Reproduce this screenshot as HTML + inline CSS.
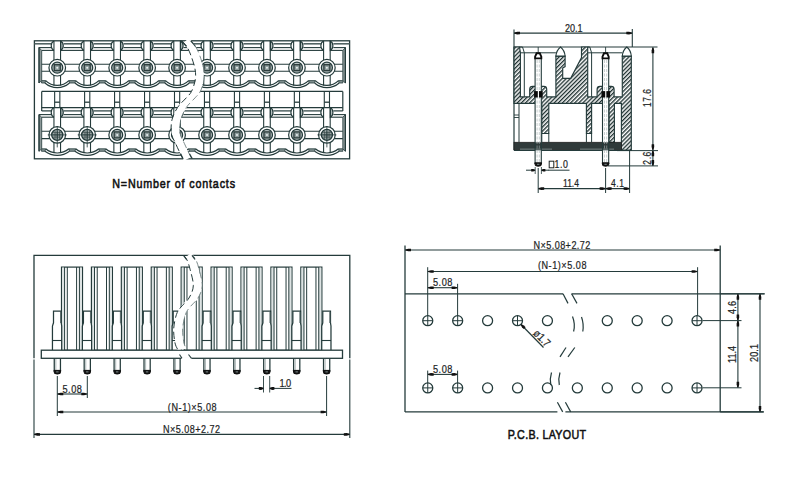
<!DOCTYPE html>
<html><head><meta charset="utf-8"><style>
html,body{margin:0;padding:0;background:#fff;}
svg{display:block;font-family:"Liberation Sans",sans-serif;}
</style></head><body>
<svg width="800" height="486" viewBox="0 0 800 486">
<rect width="800" height="486" fill="#fff"/>
<g>
<rect x="34.40" y="40.80" width="315.20" height="118.00" stroke="#243b3b" stroke-width="1.3" fill="none" />
<line x1="34.40" y1="43.80" x2="51.25" y2="43.80" stroke="#526464" stroke-width="1.6" />
<line x1="63.75" y1="43.80" x2="81.21" y2="43.80" stroke="#526464" stroke-width="1.6" />
<line x1="93.71" y1="43.80" x2="111.17" y2="43.80" stroke="#526464" stroke-width="1.6" />
<line x1="123.67" y1="43.80" x2="141.13" y2="43.80" stroke="#526464" stroke-width="1.6" />
<line x1="153.63" y1="43.80" x2="171.09" y2="43.80" stroke="#526464" stroke-width="1.6" />
<line x1="183.59" y1="43.80" x2="201.05" y2="43.80" stroke="#526464" stroke-width="1.6" />
<line x1="213.55" y1="43.80" x2="231.01" y2="43.80" stroke="#526464" stroke-width="1.6" />
<line x1="243.51" y1="43.80" x2="260.97" y2="43.80" stroke="#526464" stroke-width="1.6" />
<line x1="273.47" y1="43.80" x2="290.93" y2="43.80" stroke="#526464" stroke-width="1.6" />
<line x1="303.43" y1="43.80" x2="320.89" y2="43.80" stroke="#526464" stroke-width="1.6" />
<line x1="333.39" y1="43.80" x2="349.60" y2="43.80" stroke="#526464" stroke-width="1.6" />
<line x1="39.00" y1="47.60" x2="51.25" y2="47.60" stroke="#243b3b" stroke-width="1.1" />
<line x1="63.75" y1="47.60" x2="81.21" y2="47.60" stroke="#243b3b" stroke-width="1.1" />
<line x1="93.71" y1="47.60" x2="111.17" y2="47.60" stroke="#243b3b" stroke-width="1.1" />
<line x1="123.67" y1="47.60" x2="141.13" y2="47.60" stroke="#243b3b" stroke-width="1.1" />
<line x1="153.63" y1="47.60" x2="171.09" y2="47.60" stroke="#243b3b" stroke-width="1.1" />
<line x1="183.59" y1="47.60" x2="201.05" y2="47.60" stroke="#243b3b" stroke-width="1.1" />
<line x1="213.55" y1="47.60" x2="231.01" y2="47.60" stroke="#243b3b" stroke-width="1.1" />
<line x1="243.51" y1="47.60" x2="260.97" y2="47.60" stroke="#243b3b" stroke-width="1.1" />
<line x1="273.47" y1="47.60" x2="290.93" y2="47.60" stroke="#243b3b" stroke-width="1.1" />
<line x1="303.43" y1="47.60" x2="320.89" y2="47.60" stroke="#243b3b" stroke-width="1.1" />
<line x1="333.39" y1="47.60" x2="345.40" y2="47.60" stroke="#243b3b" stroke-width="1.1" />
<line x1="41.70" y1="50.40" x2="53.95" y2="50.40" stroke="#243b3b" stroke-width="1.1" />
<line x1="60.55" y1="50.40" x2="83.91" y2="50.40" stroke="#243b3b" stroke-width="1.1" />
<line x1="90.51" y1="50.40" x2="113.87" y2="50.40" stroke="#243b3b" stroke-width="1.1" />
<line x1="120.47" y1="50.40" x2="143.83" y2="50.40" stroke="#243b3b" stroke-width="1.1" />
<line x1="150.43" y1="50.40" x2="173.79" y2="50.40" stroke="#243b3b" stroke-width="1.1" />
<line x1="180.39" y1="50.40" x2="203.75" y2="50.40" stroke="#243b3b" stroke-width="1.1" />
<line x1="210.35" y1="50.40" x2="233.71" y2="50.40" stroke="#243b3b" stroke-width="1.1" />
<line x1="240.31" y1="50.40" x2="263.67" y2="50.40" stroke="#243b3b" stroke-width="1.1" />
<line x1="270.27" y1="50.40" x2="293.63" y2="50.40" stroke="#243b3b" stroke-width="1.1" />
<line x1="300.23" y1="50.40" x2="323.59" y2="50.40" stroke="#243b3b" stroke-width="1.1" />
<line x1="330.19" y1="50.40" x2="342.80" y2="50.40" stroke="#243b3b" stroke-width="1.1" />
<path d="M53.85,41 C50.35,42.88 50.35,48.519999999999996 53.85,50.4" stroke="#243b3b" stroke-width="1.15" fill="none" />
<path d="M60.65,41 C64.15,42.88 64.15,48.519999999999996 60.65,50.4 Z" stroke="#243b3b" stroke-width="1.15" fill="#b4bebe" />
<path d="M83.81,41 C80.31,42.88 80.31,48.519999999999996 83.81,50.4" stroke="#243b3b" stroke-width="1.15" fill="none" />
<path d="M90.61000000000001,41 C94.11000000000001,42.88 94.11000000000001,48.519999999999996 90.61000000000001,50.4 Z" stroke="#243b3b" stroke-width="1.15" fill="#b4bebe" />
<path d="M113.77,41 C110.27,42.88 110.27,48.519999999999996 113.77,50.4" stroke="#243b3b" stroke-width="1.15" fill="none" />
<path d="M120.57000000000001,41 C124.07000000000001,42.88 124.07000000000001,48.519999999999996 120.57000000000001,50.4 Z" stroke="#243b3b" stroke-width="1.15" fill="#b4bebe" />
<path d="M143.73,41 C140.23,42.88 140.23,48.519999999999996 143.73,50.4" stroke="#243b3b" stroke-width="1.15" fill="none" />
<path d="M150.53,41 C154.03,42.88 154.03,48.519999999999996 150.53,50.4 Z" stroke="#243b3b" stroke-width="1.15" fill="#b4bebe" />
<path d="M173.69,41 C170.19,42.88 170.19,48.519999999999996 173.69,50.4" stroke="#243b3b" stroke-width="1.15" fill="none" />
<path d="M180.49,41 C183.99,42.88 183.99,48.519999999999996 180.49,50.4 Z" stroke="#243b3b" stroke-width="1.15" fill="#b4bebe" />
<path d="M203.65,41 C200.15,42.88 200.15,48.519999999999996 203.65,50.4" stroke="#243b3b" stroke-width="1.15" fill="none" />
<path d="M210.45000000000002,41 C213.95000000000002,42.88 213.95000000000002,48.519999999999996 210.45000000000002,50.4 Z" stroke="#243b3b" stroke-width="1.15" fill="#b4bebe" />
<path d="M233.60999999999999,41 C230.10999999999999,42.88 230.10999999999999,48.519999999999996 233.60999999999999,50.4" stroke="#243b3b" stroke-width="1.15" fill="none" />
<path d="M240.41,41 C243.91,42.88 243.91,48.519999999999996 240.41,50.4 Z" stroke="#243b3b" stroke-width="1.15" fill="#b4bebe" />
<path d="M263.57000000000005,41 C260.07000000000005,42.88 260.07000000000005,48.519999999999996 263.57000000000005,50.4" stroke="#243b3b" stroke-width="1.15" fill="none" />
<path d="M270.37,41 C273.87,42.88 273.87,48.519999999999996 270.37,50.4 Z" stroke="#243b3b" stroke-width="1.15" fill="#b4bebe" />
<path d="M293.53000000000003,41 C290.03000000000003,42.88 290.03000000000003,48.519999999999996 293.53000000000003,50.4" stroke="#243b3b" stroke-width="1.15" fill="none" />
<path d="M300.33,41 C303.83,42.88 303.83,48.519999999999996 300.33,50.4 Z" stroke="#243b3b" stroke-width="1.15" fill="#b4bebe" />
<path d="M323.49,41 C319.99,42.88 319.99,48.519999999999996 323.49,50.4" stroke="#243b3b" stroke-width="1.15" fill="none" />
<path d="M330.28999999999996,41 C333.78999999999996,42.88 333.78999999999996,48.519999999999996 330.28999999999996,50.4 Z" stroke="#243b3b" stroke-width="1.15" fill="#b4bebe" />
<path d="M39,47.6 L41.7,50.4 L41.7,80.6 L39,83.0 Z" stroke="#243b3b" stroke-width="0.8" fill="#8d9999" />
<path d="M345.4,47.6 L342.8,50.4 L342.8,80.6 L345.4,83.0 Z" stroke="#243b3b" stroke-width="0.8" fill="#8d9999" />
<line x1="39.00" y1="47.60" x2="39.00" y2="83.00" stroke="#243b3b" stroke-width="1.2" />
<line x1="345.40" y1="47.60" x2="345.40" y2="83.00" stroke="#243b3b" stroke-width="1.2" />
<line x1="41.70" y1="64.30" x2="342.80" y2="64.30" stroke="#243b3b" stroke-width="1.1" />
<line x1="41.70" y1="71.30" x2="342.80" y2="71.30" stroke="#243b3b" stroke-width="1.1" />
<line x1="53.95" y1="41.00" x2="53.95" y2="85.40" stroke="#243b3b" stroke-width="1.1" />
<line x1="60.55" y1="41.00" x2="60.55" y2="85.40" stroke="#243b3b" stroke-width="1.1" />
<line x1="83.91" y1="41.00" x2="83.91" y2="85.40" stroke="#243b3b" stroke-width="1.1" />
<line x1="90.51" y1="41.00" x2="90.51" y2="85.40" stroke="#243b3b" stroke-width="1.1" />
<line x1="113.87" y1="41.00" x2="113.87" y2="85.40" stroke="#243b3b" stroke-width="1.1" />
<line x1="120.47" y1="41.00" x2="120.47" y2="85.40" stroke="#243b3b" stroke-width="1.1" />
<line x1="143.83" y1="41.00" x2="143.83" y2="85.40" stroke="#243b3b" stroke-width="1.1" />
<line x1="150.43" y1="41.00" x2="150.43" y2="85.40" stroke="#243b3b" stroke-width="1.1" />
<line x1="173.79" y1="41.00" x2="173.79" y2="85.40" stroke="#243b3b" stroke-width="1.1" />
<line x1="180.39" y1="41.00" x2="180.39" y2="85.40" stroke="#243b3b" stroke-width="1.1" />
<line x1="203.75" y1="41.00" x2="203.75" y2="85.40" stroke="#243b3b" stroke-width="1.1" />
<line x1="210.35" y1="41.00" x2="210.35" y2="85.40" stroke="#243b3b" stroke-width="1.1" />
<line x1="233.71" y1="41.00" x2="233.71" y2="85.40" stroke="#243b3b" stroke-width="1.1" />
<line x1="240.31" y1="41.00" x2="240.31" y2="85.40" stroke="#243b3b" stroke-width="1.1" />
<line x1="263.67" y1="41.00" x2="263.67" y2="85.40" stroke="#243b3b" stroke-width="1.1" />
<line x1="270.27" y1="41.00" x2="270.27" y2="85.40" stroke="#243b3b" stroke-width="1.1" />
<line x1="293.63" y1="41.00" x2="293.63" y2="85.40" stroke="#243b3b" stroke-width="1.1" />
<line x1="300.23" y1="41.00" x2="300.23" y2="85.40" stroke="#243b3b" stroke-width="1.1" />
<line x1="323.59" y1="41.00" x2="323.59" y2="85.40" stroke="#243b3b" stroke-width="1.1" />
<line x1="330.19" y1="41.00" x2="330.19" y2="85.40" stroke="#243b3b" stroke-width="1.1" />
<path d="M41.5,83.0 L41.7,80.6 L45.65,80.6 L44.949999999999996,83.0 Z" stroke="#243b3b" stroke-width="0.8" fill="#849292" />
<path d="M69.55,83.0 L68.85,80.6 L75.61000000000001,80.6 L74.91000000000001,83.0 Z" stroke="#243b3b" stroke-width="0.8" fill="#849292" />
<path d="M99.51,83.0 L98.81,80.6 L105.57000000000001,80.6 L104.87,83.0 Z" stroke="#243b3b" stroke-width="0.8" fill="#849292" />
<path d="M129.47,83.0 L128.77,80.6 L135.53,80.6 L134.83,83.0 Z" stroke="#243b3b" stroke-width="0.8" fill="#849292" />
<path d="M159.42999999999998,83.0 L158.73,80.6 L165.49,80.6 L164.79000000000002,83.0 Z" stroke="#243b3b" stroke-width="0.8" fill="#849292" />
<path d="M189.39,83.0 L188.69,80.6 L195.45000000000002,80.6 L194.75000000000003,83.0 Z" stroke="#243b3b" stroke-width="0.8" fill="#849292" />
<path d="M219.35,83.0 L218.65,80.6 L225.41,80.6 L224.71,83.0 Z" stroke="#243b3b" stroke-width="0.8" fill="#849292" />
<path d="M249.30999999999997,83.0 L248.60999999999999,80.6 L255.37000000000003,80.6 L254.67000000000004,83.0 Z" stroke="#243b3b" stroke-width="0.8" fill="#849292" />
<path d="M279.27000000000004,83.0 L278.57000000000005,80.6 L285.33,80.6 L284.63,83.0 Z" stroke="#243b3b" stroke-width="0.8" fill="#849292" />
<path d="M309.23,83.0 L308.53000000000003,80.6 L315.28999999999996,80.6 L314.59,83.0 Z" stroke="#243b3b" stroke-width="0.8" fill="#849292" />
<path d="M339.19,83.0 L338.49,80.6 L342.8,80.6 L342.9,83.0 Z" stroke="#243b3b" stroke-width="0.8" fill="#849292" />
<path d="M45.65,80.6 A16.42,16.42 0 0 0 68.85,80.6" stroke="#243b3b" stroke-width="1.2" fill="none" />
<path d="M44.95,83.0 A18.74,18.74 0 0 0 69.55,83.0" stroke="#243b3b" stroke-width="1.2" fill="none" />
<path d="M75.61000000000001,80.6 A16.42,16.42 0 0 0 98.81,80.6" stroke="#243b3b" stroke-width="1.2" fill="none" />
<path d="M74.91000000000001,83.0 A18.74,18.74 0 0 0 99.51,83.0" stroke="#243b3b" stroke-width="1.2" fill="none" />
<path d="M105.57000000000001,80.6 A16.42,16.42 0 0 0 128.77,80.6" stroke="#243b3b" stroke-width="1.2" fill="none" />
<path d="M104.87,83.0 A18.74,18.74 0 0 0 129.47,83.0" stroke="#243b3b" stroke-width="1.2" fill="none" />
<path d="M135.53,80.6 A16.42,16.42 0 0 0 158.73,80.6" stroke="#243b3b" stroke-width="1.2" fill="none" />
<path d="M134.82999999999998,83.0 A18.74,18.74 0 0 0 159.43,83.0" stroke="#243b3b" stroke-width="1.2" fill="none" />
<path d="M165.49,80.6 A16.42,16.42 0 0 0 188.69,80.6" stroke="#243b3b" stroke-width="1.2" fill="none" />
<path d="M164.79,83.0 A18.74,18.74 0 0 0 189.39000000000001,83.0" stroke="#243b3b" stroke-width="1.2" fill="none" />
<path d="M195.45000000000002,80.6 A16.42,16.42 0 0 0 218.65,80.6" stroke="#243b3b" stroke-width="1.2" fill="none" />
<path d="M194.75,83.0 A18.74,18.74 0 0 0 219.35000000000002,83.0" stroke="#243b3b" stroke-width="1.2" fill="none" />
<path d="M225.41,80.6 A16.42,16.42 0 0 0 248.60999999999999,80.6" stroke="#243b3b" stroke-width="1.2" fill="none" />
<path d="M224.70999999999998,83.0 A18.74,18.74 0 0 0 249.31,83.0" stroke="#243b3b" stroke-width="1.2" fill="none" />
<path d="M255.37000000000003,80.6 A16.42,16.42 0 0 0 278.57000000000005,80.6" stroke="#243b3b" stroke-width="1.2" fill="none" />
<path d="M254.67000000000002,83.0 A18.74,18.74 0 0 0 279.27000000000004,83.0" stroke="#243b3b" stroke-width="1.2" fill="none" />
<path d="M285.33,80.6 A16.42,16.42 0 0 0 308.53000000000003,80.6" stroke="#243b3b" stroke-width="1.2" fill="none" />
<path d="M284.63,83.0 A18.74,18.74 0 0 0 309.23,83.0" stroke="#243b3b" stroke-width="1.2" fill="none" />
<path d="M315.28999999999996,80.6 A16.42,16.42 0 0 0 338.49,80.6" stroke="#243b3b" stroke-width="1.2" fill="none" />
<path d="M314.59,83.0 A18.74,18.74 0 0 0 339.19,83.0" stroke="#243b3b" stroke-width="1.2" fill="none" />
<circle cx="57.25" cy="67.70" r="8.30" stroke="#243b3b" stroke-width="1.2" fill="#fff" />
<circle cx="57.25" cy="67.70" r="5.50" stroke="#243b3b" stroke-width="1.3" fill="#b9c3c3" />
<rect x="54.25" y="64.70" width="6.00" height="6.00" stroke="#2a3a3a" stroke-width="1.3" fill="#8d9b9b" />
<circle cx="57.25" cy="67.70" r="1.00" stroke="#243b3b" stroke-width="0" fill="#e8eeee" />
<circle cx="87.21" cy="67.70" r="8.30" stroke="#243b3b" stroke-width="1.2" fill="#fff" />
<circle cx="87.21" cy="67.70" r="5.50" stroke="#243b3b" stroke-width="1.3" fill="#b9c3c3" />
<rect x="84.21" y="64.70" width="6.00" height="6.00" stroke="#2a3a3a" stroke-width="1.3" fill="#8d9b9b" />
<circle cx="87.21" cy="67.70" r="1.00" stroke="#243b3b" stroke-width="0" fill="#e8eeee" />
<circle cx="117.17" cy="67.70" r="8.30" stroke="#243b3b" stroke-width="1.2" fill="#fff" />
<circle cx="117.17" cy="67.70" r="5.50" stroke="#243b3b" stroke-width="1.3" fill="#b9c3c3" />
<rect x="114.17" y="64.70" width="6.00" height="6.00" stroke="#2a3a3a" stroke-width="1.3" fill="#8d9b9b" />
<circle cx="117.17" cy="67.70" r="1.00" stroke="#243b3b" stroke-width="0" fill="#e8eeee" />
<circle cx="147.13" cy="67.70" r="8.30" stroke="#243b3b" stroke-width="1.2" fill="#fff" />
<circle cx="147.13" cy="67.70" r="5.50" stroke="#243b3b" stroke-width="1.3" fill="#b9c3c3" />
<rect x="144.13" y="64.70" width="6.00" height="6.00" stroke="#2a3a3a" stroke-width="1.3" fill="#8d9b9b" />
<circle cx="147.13" cy="67.70" r="1.00" stroke="#243b3b" stroke-width="0" fill="#e8eeee" />
<circle cx="177.09" cy="67.70" r="8.30" stroke="#243b3b" stroke-width="1.2" fill="#fff" />
<circle cx="177.09" cy="67.70" r="5.50" stroke="#243b3b" stroke-width="1.3" fill="#b9c3c3" />
<rect x="174.09" y="64.70" width="6.00" height="6.00" stroke="#2a3a3a" stroke-width="1.3" fill="#8d9b9b" />
<circle cx="177.09" cy="67.70" r="1.00" stroke="#243b3b" stroke-width="0" fill="#e8eeee" />
<circle cx="207.05" cy="67.70" r="8.30" stroke="#243b3b" stroke-width="1.2" fill="#fff" />
<circle cx="207.05" cy="67.70" r="5.50" stroke="#243b3b" stroke-width="1.3" fill="#b9c3c3" />
<rect x="204.05" y="64.70" width="6.00" height="6.00" stroke="#2a3a3a" stroke-width="1.3" fill="#8d9b9b" />
<circle cx="207.05" cy="67.70" r="1.00" stroke="#243b3b" stroke-width="0" fill="#e8eeee" />
<circle cx="237.01" cy="67.70" r="8.30" stroke="#243b3b" stroke-width="1.2" fill="#fff" />
<circle cx="237.01" cy="67.70" r="5.50" stroke="#243b3b" stroke-width="1.3" fill="#b9c3c3" />
<rect x="234.01" y="64.70" width="6.00" height="6.00" stroke="#2a3a3a" stroke-width="1.3" fill="#8d9b9b" />
<circle cx="237.01" cy="67.70" r="1.00" stroke="#243b3b" stroke-width="0" fill="#e8eeee" />
<circle cx="266.97" cy="67.70" r="8.30" stroke="#243b3b" stroke-width="1.2" fill="#fff" />
<circle cx="266.97" cy="67.70" r="5.50" stroke="#243b3b" stroke-width="1.3" fill="#b9c3c3" />
<rect x="263.97" y="64.70" width="6.00" height="6.00" stroke="#2a3a3a" stroke-width="1.3" fill="#8d9b9b" />
<circle cx="266.97" cy="67.70" r="1.00" stroke="#243b3b" stroke-width="0" fill="#e8eeee" />
<circle cx="296.93" cy="67.70" r="8.30" stroke="#243b3b" stroke-width="1.2" fill="#fff" />
<circle cx="296.93" cy="67.70" r="5.50" stroke="#243b3b" stroke-width="1.3" fill="#b9c3c3" />
<rect x="293.93" y="64.70" width="6.00" height="6.00" stroke="#2a3a3a" stroke-width="1.3" fill="#8d9b9b" />
<circle cx="296.93" cy="67.70" r="1.00" stroke="#243b3b" stroke-width="0" fill="#e8eeee" />
<circle cx="326.89" cy="67.70" r="8.30" stroke="#243b3b" stroke-width="1.2" fill="#fff" />
<circle cx="326.89" cy="67.70" r="5.50" stroke="#243b3b" stroke-width="1.3" fill="#b9c3c3" />
<rect x="323.89" y="64.70" width="6.00" height="6.00" stroke="#2a3a3a" stroke-width="1.3" fill="#8d9b9b" />
<circle cx="326.89" cy="67.70" r="1.00" stroke="#243b3b" stroke-width="0" fill="#e8eeee" />
<line x1="41.70" y1="91.40" x2="342.80" y2="91.40" stroke="#243b3b" stroke-width="1.2" />
<line x1="41.70" y1="91.40" x2="41.70" y2="110.90" stroke="#243b3b" stroke-width="1.2" />
<line x1="342.80" y1="91.40" x2="342.80" y2="110.90" stroke="#243b3b" stroke-width="1.2" />
<line x1="54.65" y1="91.40" x2="54.65" y2="107.50" stroke="#243b3b" stroke-width="1.1" />
<line x1="59.85" y1="91.40" x2="59.85" y2="107.50" stroke="#243b3b" stroke-width="1.1" />
<line x1="54.65" y1="102.20" x2="59.85" y2="102.20" stroke="#243b3b" stroke-width="1.3" />
<line x1="84.61" y1="91.40" x2="84.61" y2="107.50" stroke="#243b3b" stroke-width="1.1" />
<line x1="89.81" y1="91.40" x2="89.81" y2="107.50" stroke="#243b3b" stroke-width="1.1" />
<line x1="84.61" y1="102.20" x2="89.81" y2="102.20" stroke="#243b3b" stroke-width="1.3" />
<line x1="114.57" y1="91.40" x2="114.57" y2="107.50" stroke="#243b3b" stroke-width="1.1" />
<line x1="119.77" y1="91.40" x2="119.77" y2="107.50" stroke="#243b3b" stroke-width="1.1" />
<line x1="114.57" y1="102.20" x2="119.77" y2="102.20" stroke="#243b3b" stroke-width="1.3" />
<line x1="144.53" y1="91.40" x2="144.53" y2="107.50" stroke="#243b3b" stroke-width="1.1" />
<line x1="149.73" y1="91.40" x2="149.73" y2="107.50" stroke="#243b3b" stroke-width="1.1" />
<line x1="144.53" y1="102.20" x2="149.73" y2="102.20" stroke="#243b3b" stroke-width="1.3" />
<line x1="174.49" y1="91.40" x2="174.49" y2="107.50" stroke="#243b3b" stroke-width="1.1" />
<line x1="179.69" y1="91.40" x2="179.69" y2="107.50" stroke="#243b3b" stroke-width="1.1" />
<line x1="174.49" y1="102.20" x2="179.69" y2="102.20" stroke="#243b3b" stroke-width="1.3" />
<line x1="204.45" y1="91.40" x2="204.45" y2="107.50" stroke="#243b3b" stroke-width="1.1" />
<line x1="209.65" y1="91.40" x2="209.65" y2="107.50" stroke="#243b3b" stroke-width="1.1" />
<line x1="204.45" y1="102.20" x2="209.65" y2="102.20" stroke="#243b3b" stroke-width="1.3" />
<line x1="234.41" y1="91.40" x2="234.41" y2="107.50" stroke="#243b3b" stroke-width="1.1" />
<line x1="239.61" y1="91.40" x2="239.61" y2="107.50" stroke="#243b3b" stroke-width="1.1" />
<line x1="234.41" y1="102.20" x2="239.61" y2="102.20" stroke="#243b3b" stroke-width="1.3" />
<line x1="264.37" y1="91.40" x2="264.37" y2="107.50" stroke="#243b3b" stroke-width="1.1" />
<line x1="269.57" y1="91.40" x2="269.57" y2="107.50" stroke="#243b3b" stroke-width="1.1" />
<line x1="264.37" y1="102.20" x2="269.57" y2="102.20" stroke="#243b3b" stroke-width="1.3" />
<line x1="294.33" y1="91.40" x2="294.33" y2="107.50" stroke="#243b3b" stroke-width="1.1" />
<line x1="299.53" y1="91.40" x2="299.53" y2="107.50" stroke="#243b3b" stroke-width="1.1" />
<line x1="294.33" y1="102.20" x2="299.53" y2="102.20" stroke="#243b3b" stroke-width="1.3" />
<line x1="324.29" y1="91.40" x2="324.29" y2="107.50" stroke="#243b3b" stroke-width="1.1" />
<line x1="329.49" y1="91.40" x2="329.49" y2="107.50" stroke="#243b3b" stroke-width="1.1" />
<line x1="324.29" y1="102.20" x2="329.49" y2="102.20" stroke="#243b3b" stroke-width="1.3" />
<line x1="41.70" y1="110.90" x2="51.25" y2="110.90" stroke="#243b3b" stroke-width="1.2" />
<line x1="63.75" y1="110.90" x2="81.21" y2="110.90" stroke="#243b3b" stroke-width="1.2" />
<line x1="93.71" y1="110.90" x2="111.17" y2="110.90" stroke="#243b3b" stroke-width="1.2" />
<line x1="123.67" y1="110.90" x2="141.13" y2="110.90" stroke="#243b3b" stroke-width="1.2" />
<line x1="153.63" y1="110.90" x2="171.09" y2="110.90" stroke="#243b3b" stroke-width="1.2" />
<line x1="183.59" y1="110.90" x2="201.05" y2="110.90" stroke="#243b3b" stroke-width="1.2" />
<line x1="213.55" y1="110.90" x2="231.01" y2="110.90" stroke="#243b3b" stroke-width="1.2" />
<line x1="243.51" y1="110.90" x2="260.97" y2="110.90" stroke="#243b3b" stroke-width="1.2" />
<line x1="273.47" y1="110.90" x2="290.93" y2="110.90" stroke="#243b3b" stroke-width="1.2" />
<line x1="303.43" y1="110.90" x2="320.89" y2="110.90" stroke="#243b3b" stroke-width="1.2" />
<line x1="333.39" y1="110.90" x2="342.80" y2="110.90" stroke="#243b3b" stroke-width="1.2" />
<line x1="39.00" y1="114.60" x2="51.25" y2="114.60" stroke="#243b3b" stroke-width="1.1" />
<line x1="63.75" y1="114.60" x2="81.21" y2="114.60" stroke="#243b3b" stroke-width="1.1" />
<line x1="93.71" y1="114.60" x2="111.17" y2="114.60" stroke="#243b3b" stroke-width="1.1" />
<line x1="123.67" y1="114.60" x2="141.13" y2="114.60" stroke="#243b3b" stroke-width="1.1" />
<line x1="153.63" y1="114.60" x2="171.09" y2="114.60" stroke="#243b3b" stroke-width="1.1" />
<line x1="183.59" y1="114.60" x2="201.05" y2="114.60" stroke="#243b3b" stroke-width="1.1" />
<line x1="213.55" y1="114.60" x2="231.01" y2="114.60" stroke="#243b3b" stroke-width="1.1" />
<line x1="243.51" y1="114.60" x2="260.97" y2="114.60" stroke="#243b3b" stroke-width="1.1" />
<line x1="273.47" y1="114.60" x2="290.93" y2="114.60" stroke="#243b3b" stroke-width="1.1" />
<line x1="303.43" y1="114.60" x2="320.89" y2="114.60" stroke="#243b3b" stroke-width="1.1" />
<line x1="333.39" y1="114.60" x2="345.40" y2="114.60" stroke="#243b3b" stroke-width="1.1" />
<line x1="41.70" y1="117.20" x2="53.95" y2="117.20" stroke="#243b3b" stroke-width="1.1" />
<line x1="60.55" y1="117.20" x2="83.91" y2="117.20" stroke="#243b3b" stroke-width="1.1" />
<line x1="90.51" y1="117.20" x2="113.87" y2="117.20" stroke="#243b3b" stroke-width="1.1" />
<line x1="120.47" y1="117.20" x2="143.83" y2="117.20" stroke="#243b3b" stroke-width="1.1" />
<line x1="150.43" y1="117.20" x2="173.79" y2="117.20" stroke="#243b3b" stroke-width="1.1" />
<line x1="180.39" y1="117.20" x2="203.75" y2="117.20" stroke="#243b3b" stroke-width="1.1" />
<line x1="210.35" y1="117.20" x2="233.71" y2="117.20" stroke="#243b3b" stroke-width="1.1" />
<line x1="240.31" y1="117.20" x2="263.67" y2="117.20" stroke="#243b3b" stroke-width="1.1" />
<line x1="270.27" y1="117.20" x2="293.63" y2="117.20" stroke="#243b3b" stroke-width="1.1" />
<line x1="300.23" y1="117.20" x2="323.59" y2="117.20" stroke="#243b3b" stroke-width="1.1" />
<line x1="330.19" y1="117.20" x2="342.80" y2="117.20" stroke="#243b3b" stroke-width="1.1" />
<path d="M53.85,107.6 C50.35,109.52 50.35,115.28 53.85,117.2" stroke="#243b3b" stroke-width="1.15" fill="none" />
<path d="M60.65,107.6 C64.15,109.52 64.15,115.28 60.65,117.2 Z" stroke="#243b3b" stroke-width="1.15" fill="#b4bebe" />
<path d="M83.81,107.6 C80.31,109.52 80.31,115.28 83.81,117.2" stroke="#243b3b" stroke-width="1.15" fill="none" />
<path d="M90.61000000000001,107.6 C94.11000000000001,109.52 94.11000000000001,115.28 90.61000000000001,117.2 Z" stroke="#243b3b" stroke-width="1.15" fill="#b4bebe" />
<path d="M113.77,107.6 C110.27,109.52 110.27,115.28 113.77,117.2" stroke="#243b3b" stroke-width="1.15" fill="none" />
<path d="M120.57000000000001,107.6 C124.07000000000001,109.52 124.07000000000001,115.28 120.57000000000001,117.2 Z" stroke="#243b3b" stroke-width="1.15" fill="#b4bebe" />
<path d="M143.73,107.6 C140.23,109.52 140.23,115.28 143.73,117.2" stroke="#243b3b" stroke-width="1.15" fill="none" />
<path d="M150.53,107.6 C154.03,109.52 154.03,115.28 150.53,117.2 Z" stroke="#243b3b" stroke-width="1.15" fill="#b4bebe" />
<path d="M173.69,107.6 C170.19,109.52 170.19,115.28 173.69,117.2" stroke="#243b3b" stroke-width="1.15" fill="none" />
<path d="M180.49,107.6 C183.99,109.52 183.99,115.28 180.49,117.2 Z" stroke="#243b3b" stroke-width="1.15" fill="#b4bebe" />
<path d="M203.65,107.6 C200.15,109.52 200.15,115.28 203.65,117.2" stroke="#243b3b" stroke-width="1.15" fill="none" />
<path d="M210.45000000000002,107.6 C213.95000000000002,109.52 213.95000000000002,115.28 210.45000000000002,117.2 Z" stroke="#243b3b" stroke-width="1.15" fill="#b4bebe" />
<path d="M233.60999999999999,107.6 C230.10999999999999,109.52 230.10999999999999,115.28 233.60999999999999,117.2" stroke="#243b3b" stroke-width="1.15" fill="none" />
<path d="M240.41,107.6 C243.91,109.52 243.91,115.28 240.41,117.2 Z" stroke="#243b3b" stroke-width="1.15" fill="#b4bebe" />
<path d="M263.57000000000005,107.6 C260.07000000000005,109.52 260.07000000000005,115.28 263.57000000000005,117.2" stroke="#243b3b" stroke-width="1.15" fill="none" />
<path d="M270.37,107.6 C273.87,109.52 273.87,115.28 270.37,117.2 Z" stroke="#243b3b" stroke-width="1.15" fill="#b4bebe" />
<path d="M293.53000000000003,107.6 C290.03000000000003,109.52 290.03000000000003,115.28 293.53000000000003,117.2" stroke="#243b3b" stroke-width="1.15" fill="none" />
<path d="M300.33,107.6 C303.83,109.52 303.83,115.28 300.33,117.2 Z" stroke="#243b3b" stroke-width="1.15" fill="#b4bebe" />
<path d="M323.49,107.6 C319.99,109.52 319.99,115.28 323.49,117.2" stroke="#243b3b" stroke-width="1.15" fill="none" />
<path d="M330.28999999999996,107.6 C333.78999999999996,109.52 333.78999999999996,115.28 330.28999999999996,117.2 Z" stroke="#243b3b" stroke-width="1.15" fill="#b4bebe" />
<path d="M39,114.6 L41.7,117.2 L41.7,148.8 L39,151.3 Z" stroke="#243b3b" stroke-width="0.8" fill="#8d9999" />
<path d="M345.4,114.6 L342.8,117.2 L342.8,148.8 L345.4,151.3 Z" stroke="#243b3b" stroke-width="0.8" fill="#8d9999" />
<line x1="39.00" y1="114.60" x2="39.00" y2="151.30" stroke="#243b3b" stroke-width="1.2" />
<line x1="345.40" y1="114.60" x2="345.40" y2="151.30" stroke="#243b3b" stroke-width="1.2" />
<line x1="41.70" y1="131.20" x2="342.80" y2="131.20" stroke="#243b3b" stroke-width="1.1" />
<line x1="41.70" y1="138.60" x2="342.80" y2="138.60" stroke="#243b3b" stroke-width="1.1" />
<line x1="53.95" y1="107.60" x2="53.95" y2="153.00" stroke="#243b3b" stroke-width="1.1" />
<line x1="60.55" y1="107.60" x2="60.55" y2="153.00" stroke="#243b3b" stroke-width="1.1" />
<line x1="83.91" y1="107.60" x2="83.91" y2="153.00" stroke="#243b3b" stroke-width="1.1" />
<line x1="90.51" y1="107.60" x2="90.51" y2="153.00" stroke="#243b3b" stroke-width="1.1" />
<line x1="113.87" y1="107.60" x2="113.87" y2="153.00" stroke="#243b3b" stroke-width="1.1" />
<line x1="120.47" y1="107.60" x2="120.47" y2="153.00" stroke="#243b3b" stroke-width="1.1" />
<line x1="143.83" y1="107.60" x2="143.83" y2="153.00" stroke="#243b3b" stroke-width="1.1" />
<line x1="150.43" y1="107.60" x2="150.43" y2="153.00" stroke="#243b3b" stroke-width="1.1" />
<line x1="173.79" y1="107.60" x2="173.79" y2="153.00" stroke="#243b3b" stroke-width="1.1" />
<line x1="180.39" y1="107.60" x2="180.39" y2="153.00" stroke="#243b3b" stroke-width="1.1" />
<line x1="203.75" y1="107.60" x2="203.75" y2="153.00" stroke="#243b3b" stroke-width="1.1" />
<line x1="210.35" y1="107.60" x2="210.35" y2="153.00" stroke="#243b3b" stroke-width="1.1" />
<line x1="233.71" y1="107.60" x2="233.71" y2="153.00" stroke="#243b3b" stroke-width="1.1" />
<line x1="240.31" y1="107.60" x2="240.31" y2="153.00" stroke="#243b3b" stroke-width="1.1" />
<line x1="263.67" y1="107.60" x2="263.67" y2="153.00" stroke="#243b3b" stroke-width="1.1" />
<line x1="270.27" y1="107.60" x2="270.27" y2="153.00" stroke="#243b3b" stroke-width="1.1" />
<line x1="293.63" y1="107.60" x2="293.63" y2="153.00" stroke="#243b3b" stroke-width="1.1" />
<line x1="300.23" y1="107.60" x2="300.23" y2="153.00" stroke="#243b3b" stroke-width="1.1" />
<line x1="323.59" y1="107.60" x2="323.59" y2="153.00" stroke="#243b3b" stroke-width="1.1" />
<line x1="330.19" y1="107.60" x2="330.19" y2="153.00" stroke="#243b3b" stroke-width="1.1" />
<path d="M41.5,151.3 L41.7,148.8 L45.65,148.8 L44.949999999999996,151.3 Z" stroke="#243b3b" stroke-width="0.8" fill="#849292" />
<path d="M69.55,151.3 L68.85,148.8 L75.61000000000001,148.8 L74.91000000000001,151.3 Z" stroke="#243b3b" stroke-width="0.8" fill="#849292" />
<path d="M99.51,151.3 L98.81,148.8 L105.57000000000001,148.8 L104.87,151.3 Z" stroke="#243b3b" stroke-width="0.8" fill="#849292" />
<path d="M129.47,151.3 L128.77,148.8 L135.53,148.8 L134.83,151.3 Z" stroke="#243b3b" stroke-width="0.8" fill="#849292" />
<path d="M159.42999999999998,151.3 L158.73,148.8 L165.49,148.8 L164.79000000000002,151.3 Z" stroke="#243b3b" stroke-width="0.8" fill="#849292" />
<path d="M189.39,151.3 L188.69,148.8 L195.45000000000002,148.8 L194.75000000000003,151.3 Z" stroke="#243b3b" stroke-width="0.8" fill="#849292" />
<path d="M219.35,151.3 L218.65,148.8 L225.41,148.8 L224.71,151.3 Z" stroke="#243b3b" stroke-width="0.8" fill="#849292" />
<path d="M249.30999999999997,151.3 L248.60999999999999,148.8 L255.37000000000003,148.8 L254.67000000000004,151.3 Z" stroke="#243b3b" stroke-width="0.8" fill="#849292" />
<path d="M279.27000000000004,151.3 L278.57000000000005,148.8 L285.33,148.8 L284.63,151.3 Z" stroke="#243b3b" stroke-width="0.8" fill="#849292" />
<path d="M309.23,151.3 L308.53000000000003,148.8 L315.28999999999996,148.8 L314.59,151.3 Z" stroke="#243b3b" stroke-width="0.8" fill="#849292" />
<path d="M339.19,151.3 L338.49,148.8 L342.8,148.8 L342.9,151.3 Z" stroke="#243b3b" stroke-width="0.8" fill="#849292" />
<path d="M45.65,148.8 A18.12,18.12 0 0 0 68.85,148.8" stroke="#243b3b" stroke-width="1.2" fill="none" />
<path d="M44.95,151.3 A20.50,20.50 0 0 0 69.55,151.3" stroke="#243b3b" stroke-width="1.2" fill="none" />
<path d="M75.61000000000001,148.8 A18.12,18.12 0 0 0 98.81,148.8" stroke="#243b3b" stroke-width="1.2" fill="none" />
<path d="M74.91000000000001,151.3 A20.50,20.50 0 0 0 99.51,151.3" stroke="#243b3b" stroke-width="1.2" fill="none" />
<path d="M105.57000000000001,148.8 A18.12,18.12 0 0 0 128.77,148.8" stroke="#243b3b" stroke-width="1.2" fill="none" />
<path d="M104.87,151.3 A20.50,20.50 0 0 0 129.47,151.3" stroke="#243b3b" stroke-width="1.2" fill="none" />
<path d="M135.53,148.8 A18.12,18.12 0 0 0 158.73,148.8" stroke="#243b3b" stroke-width="1.2" fill="none" />
<path d="M134.82999999999998,151.3 A20.50,20.50 0 0 0 159.43,151.3" stroke="#243b3b" stroke-width="1.2" fill="none" />
<path d="M165.49,148.8 A18.12,18.12 0 0 0 188.69,148.8" stroke="#243b3b" stroke-width="1.2" fill="none" />
<path d="M164.79,151.3 A20.50,20.50 0 0 0 189.39000000000001,151.3" stroke="#243b3b" stroke-width="1.2" fill="none" />
<path d="M195.45000000000002,148.8 A18.12,18.12 0 0 0 218.65,148.8" stroke="#243b3b" stroke-width="1.2" fill="none" />
<path d="M194.75,151.3 A20.50,20.50 0 0 0 219.35000000000002,151.3" stroke="#243b3b" stroke-width="1.2" fill="none" />
<path d="M225.41,148.8 A18.12,18.12 0 0 0 248.60999999999999,148.8" stroke="#243b3b" stroke-width="1.2" fill="none" />
<path d="M224.70999999999998,151.3 A20.50,20.50 0 0 0 249.31,151.3" stroke="#243b3b" stroke-width="1.2" fill="none" />
<path d="M255.37000000000003,148.8 A18.12,18.12 0 0 0 278.57000000000005,148.8" stroke="#243b3b" stroke-width="1.2" fill="none" />
<path d="M254.67000000000002,151.3 A20.50,20.50 0 0 0 279.27000000000004,151.3" stroke="#243b3b" stroke-width="1.2" fill="none" />
<path d="M285.33,148.8 A18.12,18.12 0 0 0 308.53000000000003,148.8" stroke="#243b3b" stroke-width="1.2" fill="none" />
<path d="M284.63,151.3 A20.50,20.50 0 0 0 309.23,151.3" stroke="#243b3b" stroke-width="1.2" fill="none" />
<path d="M315.28999999999996,148.8 A18.12,18.12 0 0 0 338.49,148.8" stroke="#243b3b" stroke-width="1.2" fill="none" />
<path d="M314.59,151.3 A20.50,20.50 0 0 0 339.19,151.3" stroke="#243b3b" stroke-width="1.2" fill="none" />
<circle cx="57.25" cy="134.90" r="8.30" stroke="#243b3b" stroke-width="1.2" fill="#fff" />
<circle cx="57.25" cy="134.90" r="5.50" stroke="#243b3b" stroke-width="1.4" fill="#a9b4b4" />
<line x1="55.05" y1="130.60" x2="55.05" y2="139.20" stroke="#2f3f3f" stroke-width="0.7" />
<line x1="52.95" y1="132.70" x2="61.55" y2="132.70" stroke="#2f3f3f" stroke-width="0.7" />
<line x1="57.25" y1="130.60" x2="57.25" y2="139.20" stroke="#2f3f3f" stroke-width="0.7" />
<line x1="52.95" y1="134.90" x2="61.55" y2="134.90" stroke="#2f3f3f" stroke-width="0.7" />
<line x1="59.45" y1="130.60" x2="59.45" y2="139.20" stroke="#2f3f3f" stroke-width="0.7" />
<line x1="52.95" y1="137.10" x2="61.55" y2="137.10" stroke="#2f3f3f" stroke-width="0.7" />
<line x1="47.75" y1="134.90" x2="66.75" y2="134.90" stroke="#243b3b" stroke-width="0.8" />
<line x1="57.25" y1="126.10" x2="57.25" y2="147.40" stroke="#243b3b" stroke-width="0.8" />
<circle cx="87.21" cy="134.90" r="8.30" stroke="#243b3b" stroke-width="1.2" fill="#fff" />
<circle cx="87.21" cy="134.90" r="5.50" stroke="#243b3b" stroke-width="1.4" fill="#a9b4b4" />
<line x1="85.01" y1="130.60" x2="85.01" y2="139.20" stroke="#2f3f3f" stroke-width="0.7" />
<line x1="82.91" y1="132.70" x2="91.51" y2="132.70" stroke="#2f3f3f" stroke-width="0.7" />
<line x1="87.21" y1="130.60" x2="87.21" y2="139.20" stroke="#2f3f3f" stroke-width="0.7" />
<line x1="82.91" y1="134.90" x2="91.51" y2="134.90" stroke="#2f3f3f" stroke-width="0.7" />
<line x1="89.41" y1="130.60" x2="89.41" y2="139.20" stroke="#2f3f3f" stroke-width="0.7" />
<line x1="82.91" y1="137.10" x2="91.51" y2="137.10" stroke="#2f3f3f" stroke-width="0.7" />
<line x1="77.71" y1="134.90" x2="96.71" y2="134.90" stroke="#243b3b" stroke-width="0.8" />
<line x1="87.21" y1="126.10" x2="87.21" y2="147.40" stroke="#243b3b" stroke-width="0.8" />
<circle cx="117.17" cy="134.90" r="8.30" stroke="#243b3b" stroke-width="1.2" fill="#fff" />
<circle cx="117.17" cy="134.90" r="5.50" stroke="#243b3b" stroke-width="1.3" fill="#b9c3c3" />
<rect x="114.17" y="131.90" width="6.00" height="6.00" stroke="#2a3a3a" stroke-width="1.3" fill="#8d9b9b" />
<circle cx="117.17" cy="134.90" r="1.00" stroke="#243b3b" stroke-width="0" fill="#e8eeee" />
<circle cx="147.13" cy="134.90" r="8.30" stroke="#243b3b" stroke-width="1.2" fill="#fff" />
<circle cx="147.13" cy="134.90" r="5.50" stroke="#243b3b" stroke-width="1.3" fill="#b9c3c3" />
<rect x="144.13" y="131.90" width="6.00" height="6.00" stroke="#2a3a3a" stroke-width="1.3" fill="#8d9b9b" />
<circle cx="147.13" cy="134.90" r="1.00" stroke="#243b3b" stroke-width="0" fill="#e8eeee" />
<circle cx="177.09" cy="134.90" r="8.30" stroke="#243b3b" stroke-width="1.2" fill="#fff" />
<circle cx="177.09" cy="134.90" r="5.50" stroke="#243b3b" stroke-width="1.3" fill="#b9c3c3" />
<rect x="174.09" y="131.90" width="6.00" height="6.00" stroke="#2a3a3a" stroke-width="1.3" fill="#8d9b9b" />
<circle cx="177.09" cy="134.90" r="1.00" stroke="#243b3b" stroke-width="0" fill="#e8eeee" />
<circle cx="207.05" cy="134.90" r="8.30" stroke="#243b3b" stroke-width="1.2" fill="#fff" />
<circle cx="207.05" cy="134.90" r="5.50" stroke="#243b3b" stroke-width="1.3" fill="#b9c3c3" />
<rect x="204.05" y="131.90" width="6.00" height="6.00" stroke="#2a3a3a" stroke-width="1.3" fill="#8d9b9b" />
<circle cx="207.05" cy="134.90" r="1.00" stroke="#243b3b" stroke-width="0" fill="#e8eeee" />
<circle cx="237.01" cy="134.90" r="8.30" stroke="#243b3b" stroke-width="1.2" fill="#fff" />
<circle cx="237.01" cy="134.90" r="5.50" stroke="#243b3b" stroke-width="1.3" fill="#b9c3c3" />
<rect x="234.01" y="131.90" width="6.00" height="6.00" stroke="#2a3a3a" stroke-width="1.3" fill="#8d9b9b" />
<circle cx="237.01" cy="134.90" r="1.00" stroke="#243b3b" stroke-width="0" fill="#e8eeee" />
<circle cx="266.97" cy="134.90" r="8.30" stroke="#243b3b" stroke-width="1.2" fill="#fff" />
<circle cx="266.97" cy="134.90" r="5.50" stroke="#243b3b" stroke-width="1.3" fill="#b9c3c3" />
<rect x="263.97" y="131.90" width="6.00" height="6.00" stroke="#2a3a3a" stroke-width="1.3" fill="#8d9b9b" />
<circle cx="266.97" cy="134.90" r="1.00" stroke="#243b3b" stroke-width="0" fill="#e8eeee" />
<circle cx="296.93" cy="134.90" r="8.30" stroke="#243b3b" stroke-width="1.2" fill="#fff" />
<circle cx="296.93" cy="134.90" r="5.50" stroke="#243b3b" stroke-width="1.3" fill="#b9c3c3" />
<rect x="293.93" y="131.90" width="6.00" height="6.00" stroke="#2a3a3a" stroke-width="1.3" fill="#8d9b9b" />
<circle cx="296.93" cy="134.90" r="1.00" stroke="#243b3b" stroke-width="0" fill="#e8eeee" />
<circle cx="326.89" cy="134.90" r="8.30" stroke="#243b3b" stroke-width="1.2" fill="#fff" />
<circle cx="326.89" cy="134.90" r="5.50" stroke="#243b3b" stroke-width="1.4" fill="#a9b4b4" />
<line x1="324.69" y1="130.60" x2="324.69" y2="139.20" stroke="#2f3f3f" stroke-width="0.7" />
<line x1="322.59" y1="132.70" x2="331.19" y2="132.70" stroke="#2f3f3f" stroke-width="0.7" />
<line x1="326.89" y1="130.60" x2="326.89" y2="139.20" stroke="#2f3f3f" stroke-width="0.7" />
<line x1="322.59" y1="134.90" x2="331.19" y2="134.90" stroke="#2f3f3f" stroke-width="0.7" />
<line x1="329.09" y1="130.60" x2="329.09" y2="139.20" stroke="#2f3f3f" stroke-width="0.7" />
<line x1="322.59" y1="137.10" x2="331.19" y2="137.10" stroke="#2f3f3f" stroke-width="0.7" />
<line x1="317.39" y1="134.90" x2="336.39" y2="134.90" stroke="#243b3b" stroke-width="0.8" />
<line x1="326.89" y1="126.10" x2="326.89" y2="147.40" stroke="#243b3b" stroke-width="0.8" />
<line x1="41.70" y1="107.70" x2="342.80" y2="107.70" stroke="#243b3b" stroke-width="1.2" />
</g>
<clipPath id="bc1"><rect x="0" y="36" width="800" height="127"/></clipPath>
<g clip-path="url(#bc1)">
<path d="M181.50,40.70 C182.42,41.75 185.42,44.50 187.00,47.00 C188.58,49.50 189.67,52.03 191.00,55.70 C192.33,59.37 194.28,65.05 195.00,69.00 C195.72,72.95 195.87,75.68 195.30,79.40 C194.73,83.12 193.10,88.23 191.60,91.30 C190.10,94.37 188.63,95.12 186.30,97.80 C183.97,100.48 179.98,103.73 177.60,107.40 C175.22,111.07 173.03,115.43 172.00,119.80 C170.97,124.17 170.82,129.68 171.40,133.60 C171.98,137.52 174.07,140.07 175.50,143.30 C176.93,146.53 178.75,150.38 180.00,153.00 C181.25,155.62 182.50,158.00 183.00,159.00" stroke="#fff" stroke-width="7.800000000000001" fill="none" transform="translate(4.4,0)"/>
<path d="M181.50,40.70 C182.42,41.75 185.42,44.50 187.00,47.00 C188.58,49.50 189.67,52.03 191.00,55.70 C192.33,59.37 194.28,65.05 195.00,69.00 C195.72,72.95 195.87,75.68 195.30,79.40 C194.73,83.12 193.10,88.23 191.60,91.30 C190.10,94.37 188.63,95.12 186.30,97.80 C183.97,100.48 179.98,103.73 177.60,107.40 C175.22,111.07 173.03,115.43 172.00,119.80 C170.97,124.17 170.82,129.68 171.40,133.60 C171.98,137.52 174.07,140.07 175.50,143.30 C176.93,146.53 178.75,150.38 180.00,153.00 C181.25,155.62 182.50,158.00 183.00,159.00" stroke="#243b3b" stroke-width="1.0" fill="none" stroke-dasharray="7 3.5"/>
<path d="M181.50,40.70 C182.42,41.75 185.42,44.50 187.00,47.00 C188.58,49.50 189.67,52.03 191.00,55.70 C192.33,59.37 194.28,65.05 195.00,69.00 C195.72,72.95 195.87,75.68 195.30,79.40 C194.73,83.12 193.10,88.23 191.60,91.30 C190.10,94.37 188.63,95.12 186.30,97.80 C183.97,100.48 179.98,103.73 177.60,107.40 C175.22,111.07 173.03,115.43 172.00,119.80 C170.97,124.17 170.82,129.68 171.40,133.60 C171.98,137.52 174.07,140.07 175.50,143.30 C176.93,146.53 178.75,150.38 180.00,153.00 C181.25,155.62 182.50,158.00 183.00,159.00" stroke="#6f8080" stroke-width="0.9" fill="none" stroke-dasharray="7 3.5" stroke-dashoffset="3" transform="translate(8.8,0)"/>
</g>
<line x1="181.50" y1="40.80" x2="186.50" y2="46.50" stroke="#243b3b" stroke-width="1.2" />
<line x1="191.00" y1="40.80" x2="195.50" y2="46.50" stroke="#243b3b" stroke-width="1.2" />
<line x1="180.50" y1="153.50" x2="183.00" y2="158.80" stroke="#243b3b" stroke-width="1.2" />
<line x1="189.50" y1="153.80" x2="192.30" y2="158.80" stroke="#243b3b" stroke-width="1.2" />
<g transform="translate(173.6,187.8) scale(0.8,1)"><text x="0" y="0" font-size="13.4" text-anchor="middle" fill="#111" stroke="#111" stroke-width="0.6" textLength="153.5" lengthAdjust="spacing">N=Number of contacts</text></g>
<defs><pattern id="h" patternUnits="userSpaceOnUse" width="2.9" height="2.9" patternTransform="rotate(45)"><rect width="2.9" height="2.9" fill="#fff"/><rect x="0" y="0" width="1.35" height="2.9" fill="#1f3131"/></pattern></defs>
<line x1="514.00" y1="29.40" x2="514.00" y2="47.00" stroke="#243b3b" stroke-width="1.1" />
<line x1="632.30" y1="29.00" x2="632.30" y2="47.00" stroke="#243b3b" stroke-width="1.1" />
<line x1="514.00" y1="33.10" x2="632.30" y2="33.10" stroke="#243b3b" stroke-width="1.1" />
<path d="M514.50,32.55 L517.25,31.80 L520.00,31.87 L520.00,34.34 L517.25,34.40 L514.50,33.65 Z" fill="#111"/>
<path d="M631.80,33.65 L629.05,34.40 L626.30,34.34 L626.30,31.87 L629.05,31.80 L631.80,32.55 Z" fill="#111"/>
<g transform="translate(573.75,31.50) rotate(0) scale(0.84,1)"><text x="0" y="0" font-size="10.8" text-anchor="middle" fill="#1c2424" stroke="#1c2424" stroke-width="0.22" textLength="20.83" lengthAdjust="spacing">20.1</text></g>
<line x1="514.00" y1="47.00" x2="657.50" y2="47.00" stroke="#243b3b" stroke-width="1.2" />
<line x1="514.00" y1="150.30" x2="514.00" y2="47.00" stroke="#243b3b" stroke-width="1.2" />
<path d="M514,47.0 L519.5,47.0 L520.4,52.6 L520.4,96.9 L529.70,96.9 L529.70,89.2 Q529.70,86.3 532.60,86.3 L543.80,86.3 Q546.70,86.3 546.70,89.2 L546.70,96.9 L555.9,96.9 L555.9,56.1 L565.1,56.1 L565.1,66.6 L562.7,68 L562.7,78.3 L570.7,78.3 L581.5,57.5 L581.5,47.0 L587.7,47.0 L587.7,96.9 L597.10,96.9 L597.10,89.2 Q597.10,86.3 600.00,86.3 L611.20,86.3 Q614.10,86.3 614.10,89.2 L614.10,96.9 L622.3,96.9 L622.3,56.1 L631.3,56.1 L631.3,150.3 L621.4,150.3 L621.4,103.3 L614.4,103.3 L614.4,142.3 L609,142.3 L609,103.3 L591.6,103.3 L591.6,133.5 L586.4,133.5 L586.4,103.3 L548.8,103.3 L548.8,133.5 L541.8,133.5 L541.8,103.3 L514,103.3 Z" stroke="#243b3b" stroke-width="1.15" fill="url(#h)" stroke-linejoin="miter"/>
<path d="M519.5,47.0 L522.5,47.0 L524.3,52.6" stroke="#243b3b" stroke-width="1.0" fill="none" />
<line x1="524.30" y1="52.60" x2="524.30" y2="96.90" stroke="#243b3b" stroke-width="1.0" />
<line x1="520.40" y1="52.80" x2="555.90" y2="52.80" stroke="#243b3b" stroke-width="1.0" />
<path d="M555.9,56.1 C556.3,51.5 558.5,48.6 560.5,47.0 C562.5,48.6 564.7,51.5 565.1,56.1 Z" stroke="#243b3b" stroke-width="1.1" fill="#fff" />
<line x1="591.60" y1="52.80" x2="591.60" y2="96.90" stroke="#243b3b" stroke-width="1.0" />
<line x1="587.70" y1="52.80" x2="622.30" y2="52.80" stroke="#243b3b" stroke-width="1.0" />
<path d="M587.7,47.0 L589.8,47.0 L591.6,52.8" stroke="#243b3b" stroke-width="1.0" fill="none" />
<path d="M622.3,56.1 C622.7,51.5 624.8,48.6 626.8,47.0 C628.8,48.6 630.9,51.5 631.3,56.1 Z" stroke="#243b3b" stroke-width="1.1" fill="#fff" />
<line x1="541.80" y1="133.50" x2="541.80" y2="142.30" stroke="#243b3b" stroke-width="1.0" />
<line x1="548.80" y1="133.50" x2="548.80" y2="142.30" stroke="#243b3b" stroke-width="1.0" />
<line x1="586.40" y1="133.50" x2="586.40" y2="142.30" stroke="#243b3b" stroke-width="1.0" />
<line x1="591.60" y1="133.50" x2="591.60" y2="142.30" stroke="#243b3b" stroke-width="1.0" />
<line x1="519.00" y1="103.30" x2="519.00" y2="142.30" stroke="#243b3b" stroke-width="1.0" />
<line x1="514.00" y1="115.00" x2="519.00" y2="115.00" stroke="#243b3b" stroke-width="0.9" />
<line x1="514.00" y1="117.50" x2="519.00" y2="117.50" stroke="#243b3b" stroke-width="0.9" />
<rect x="514.00" y="142.30" width="107.40" height="7.40" stroke="#222" stroke-width="0.8" fill="#303a3a" />
<line x1="520.00" y1="149.20" x2="552.00" y2="149.20" stroke="#9aa" stroke-width="0.8" />
<line x1="580.00" y1="149.20" x2="614.00" y2="149.20" stroke="#9aa" stroke-width="0.8" />
<line x1="514.00" y1="150.30" x2="631.30" y2="150.30" stroke="#243b3b" stroke-width="1.2" />
<rect x="535.10" y="59.00" width="6.20" height="83.30" stroke="#243b3b" stroke-width="0" fill="#fff" />
<rect x="535.10" y="150.30" width="6.20" height="13.00" stroke="#243b3b" stroke-width="0" fill="#fff" />
<line x1="538.20" y1="47.00" x2="538.20" y2="52.60" stroke="#243b3b" stroke-width="0.9" />
<line x1="535.10" y1="59.00" x2="535.10" y2="164.00" stroke="#243b3b" stroke-width="1.1" />
<line x1="541.30" y1="59.00" x2="541.30" y2="164.00" stroke="#243b3b" stroke-width="1.1" />
<line x1="537.10" y1="60.00" x2="537.10" y2="163.00" stroke="#a3b0b0" stroke-width="0.6" stroke-dasharray="3 1.5"/>
<line x1="539.30" y1="60.00" x2="539.30" y2="163.00" stroke="#a3b0b0" stroke-width="0.6" stroke-dasharray="3 1.5"/>
<path d="M535.1,58.4 L535.1,56.6 L536.6,53.3 L539.8000000000001,53.3 L541.3000000000001,56.6 L541.3000000000001,58.4 Z" stroke="#0c0c0c" stroke-width="1.9" fill="#fff" />
<path d="M534.8000000000001,162.8 L541.6,162.8 L541.0,165.6 Q538.2,166.9 535.4000000000001,165.6 Z" stroke="#0d0d0d" stroke-width="1.0" fill="#151515" />
<line x1="537.00" y1="164.30" x2="539.40" y2="164.30" stroke="#9aa" stroke-width="0.8" />
<rect x="534.10" y="91.10" width="3.70" height="6.40" stroke="#243b3b" stroke-width="0" fill="#0a0a0a" />
<rect x="539.00" y="91.10" width="3.70" height="6.40" stroke="#243b3b" stroke-width="0" fill="#0a0a0a" />
<rect x="602.50" y="59.00" width="6.20" height="83.30" stroke="#243b3b" stroke-width="0" fill="#fff" />
<rect x="602.50" y="150.30" width="6.20" height="13.00" stroke="#243b3b" stroke-width="0" fill="#fff" />
<line x1="605.60" y1="47.00" x2="605.60" y2="52.60" stroke="#243b3b" stroke-width="0.9" />
<line x1="602.50" y1="59.00" x2="602.50" y2="164.00" stroke="#243b3b" stroke-width="1.1" />
<line x1="608.70" y1="59.00" x2="608.70" y2="164.00" stroke="#243b3b" stroke-width="1.1" />
<line x1="604.50" y1="60.00" x2="604.50" y2="163.00" stroke="#a3b0b0" stroke-width="0.6" stroke-dasharray="3 1.5"/>
<line x1="606.70" y1="60.00" x2="606.70" y2="163.00" stroke="#a3b0b0" stroke-width="0.6" stroke-dasharray="3 1.5"/>
<path d="M602.5,58.4 L602.5,56.6 L604.0,53.3 L607.2,53.3 L608.7,56.6 L608.7,58.4 Z" stroke="#0c0c0c" stroke-width="1.9" fill="#fff" />
<path d="M602.2,162.8 L609.0,162.8 L608.4,165.6 Q605.6,166.9 602.8000000000001,165.6 Z" stroke="#0d0d0d" stroke-width="1.0" fill="#151515" />
<line x1="604.40" y1="164.30" x2="606.80" y2="164.30" stroke="#9aa" stroke-width="0.8" />
<rect x="601.50" y="91.10" width="3.70" height="6.40" stroke="#243b3b" stroke-width="0" fill="#0a0a0a" />
<rect x="606.40" y="91.10" width="3.70" height="6.40" stroke="#243b3b" stroke-width="0" fill="#0a0a0a" />
<line x1="652.90" y1="47.20" x2="652.90" y2="165.90" stroke="#243b3b" stroke-width="1.1" />
<path d="M653.45,47.70 L654.20,50.45 L654.13,53.20 L651.66,53.20 L651.60,50.45 L652.35,47.70 Z" fill="#111"/>
<path d="M652.35,149.80 L651.60,147.05 L651.66,144.30 L654.13,144.30 L654.20,147.05 L653.45,149.80 Z" fill="#111"/>
<path d="M653.45,150.80 L654.20,153.55 L654.13,156.30 L651.66,156.30 L651.60,153.55 L652.35,150.80 Z" fill="#111"/>
<line x1="617.00" y1="150.60" x2="658.00" y2="150.60" stroke="#243b3b" stroke-width="1.0" />
<line x1="608.00" y1="165.90" x2="658.00" y2="165.90" stroke="#243b3b" stroke-width="1.0" />
<path d="M652.35,165.40 L651.60,162.65 L651.66,159.90 L654.13,159.90 L654.20,162.65 L653.45,165.40 Z" fill="#111"/>
<g transform="translate(651.00,98.00) rotate(-90) scale(0.84,1)"><text x="0" y="0" font-size="10" text-anchor="middle" fill="#1c2424" stroke="#1c2424" stroke-width="0.22" textLength="21.43" lengthAdjust="spacing">17.6</text></g>
<g transform="translate(651.00,158.20) rotate(-90) scale(0.84,1)"><text x="0" y="0" font-size="10" text-anchor="middle" fill="#1c2424" stroke="#1c2424" stroke-width="0.22" textLength="15.48" lengthAdjust="spacing">2.6</text></g>
<line x1="526.00" y1="170.20" x2="535.20" y2="170.20" stroke="#243b3b" stroke-width="1.0" />
<line x1="541.40" y1="170.20" x2="549.00" y2="170.20" stroke="#243b3b" stroke-width="1.0" />
<path d="M535.20,170.75 L533.20,171.50 L531.20,171.44 L531.20,168.96 L533.20,168.90 L535.20,169.65 Z" fill="#111"/>
<path d="M541.40,169.65 L543.40,168.90 L545.40,168.96 L545.40,171.44 L543.40,171.50 L541.40,170.75 Z" fill="#111"/>
<line x1="535.20" y1="167.00" x2="535.20" y2="174.00" stroke="#243b3b" stroke-width="0.8" />
<line x1="541.40" y1="167.00" x2="541.40" y2="174.00" stroke="#243b3b" stroke-width="0.8" />
<rect x="549.20" y="161.20" width="4.60" height="6.60" stroke="#1c2424" stroke-width="1.0" fill="none" />
<g transform="translate(554.40,168.00) rotate(0) scale(0.84,1)"><text x="0" y="0" font-size="10.5" text-anchor="start" fill="#1c2424" stroke="#1c2424" stroke-width="0.22" textLength="16.19" lengthAdjust="spacing">1.0</text></g>
<line x1="548.50" y1="170.20" x2="569.50" y2="170.20" stroke="#243b3b" stroke-width="1.0" />
<line x1="538.20" y1="168.00" x2="538.20" y2="193.00" stroke="#243b3b" stroke-width="1.0" />
<line x1="605.60" y1="168.00" x2="605.60" y2="193.00" stroke="#243b3b" stroke-width="1.0" />
<line x1="629.60" y1="151.00" x2="629.60" y2="193.00" stroke="#243b3b" stroke-width="1.0" />
<line x1="538.20" y1="188.60" x2="629.60" y2="188.60" stroke="#243b3b" stroke-width="1.1" />
<path d="M538.70,188.05 L541.45,187.30 L544.20,187.36 L544.20,189.84 L541.45,189.90 L538.70,189.15 Z" fill="#111"/>
<path d="M605.10,189.15 L602.35,189.90 L599.60,189.84 L599.60,187.36 L602.35,187.30 L605.10,188.05 Z" fill="#111"/>
<path d="M606.10,188.05 L608.85,187.30 L611.60,187.36 L611.60,189.84 L608.85,189.90 L606.10,189.15 Z" fill="#111"/>
<path d="M629.10,189.15 L626.35,189.90 L623.60,189.84 L623.60,187.36 L626.35,187.30 L629.10,188.05 Z" fill="#111"/>
<g transform="translate(571.00,187.00) rotate(0) scale(0.84,1)"><text x="0" y="0" font-size="10.2" text-anchor="middle" fill="#1c2424" stroke="#1c2424" stroke-width="0.22" textLength="19.05" lengthAdjust="spacing">11.4</text></g>
<g transform="translate(617.50,187.00) rotate(0) scale(0.84,1)"><text x="0" y="0" font-size="10.2" text-anchor="middle" fill="#1c2424" stroke="#1c2424" stroke-width="0.22" textLength="15.48" lengthAdjust="spacing">4.1</text></g>
<path d="M34,358.3 L34,255.3 L349.8,255.3 L349.8,358.3" stroke="#243b3b" stroke-width="1.3" fill="none" />
<rect x="61.50" y="267.10" width="21.00" height="83.20" stroke="#243b3b" stroke-width="1.2" fill="#fff" />
<rect x="62.10" y="267.60" width="2.50" height="82.70" stroke="#243b3b" stroke-width="0" fill="#dde3e3" />
<rect x="79.40" y="267.60" width="2.50" height="82.70" stroke="#243b3b" stroke-width="0" fill="#dde3e3" />
<line x1="64.60" y1="267.00" x2="64.60" y2="350.30" stroke="#243b3b" stroke-width="1.0" />
<line x1="67.30" y1="267.00" x2="67.30" y2="350.30" stroke="#243b3b" stroke-width="1.0" />
<line x1="76.60" y1="267.00" x2="76.60" y2="350.30" stroke="#243b3b" stroke-width="1.0" />
<line x1="79.40" y1="267.00" x2="79.40" y2="350.30" stroke="#243b3b" stroke-width="1.0" />
<rect x="91.42" y="267.10" width="21.00" height="83.20" stroke="#243b3b" stroke-width="1.2" fill="#fff" />
<rect x="92.02" y="267.60" width="2.50" height="82.70" stroke="#243b3b" stroke-width="0" fill="#dde3e3" />
<rect x="109.32" y="267.60" width="2.50" height="82.70" stroke="#243b3b" stroke-width="0" fill="#dde3e3" />
<line x1="94.52" y1="267.00" x2="94.52" y2="350.30" stroke="#243b3b" stroke-width="1.0" />
<line x1="97.22" y1="267.00" x2="97.22" y2="350.30" stroke="#243b3b" stroke-width="1.0" />
<line x1="106.52" y1="267.00" x2="106.52" y2="350.30" stroke="#243b3b" stroke-width="1.0" />
<line x1="109.32" y1="267.00" x2="109.32" y2="350.30" stroke="#243b3b" stroke-width="1.0" />
<rect x="121.34" y="267.10" width="21.00" height="83.20" stroke="#243b3b" stroke-width="1.2" fill="#fff" />
<rect x="121.94" y="267.60" width="2.50" height="82.70" stroke="#243b3b" stroke-width="0" fill="#dde3e3" />
<rect x="139.24" y="267.60" width="2.50" height="82.70" stroke="#243b3b" stroke-width="0" fill="#dde3e3" />
<line x1="124.44" y1="267.00" x2="124.44" y2="350.30" stroke="#243b3b" stroke-width="1.0" />
<line x1="127.14" y1="267.00" x2="127.14" y2="350.30" stroke="#243b3b" stroke-width="1.0" />
<line x1="136.44" y1="267.00" x2="136.44" y2="350.30" stroke="#243b3b" stroke-width="1.0" />
<line x1="139.24" y1="267.00" x2="139.24" y2="350.30" stroke="#243b3b" stroke-width="1.0" />
<rect x="151.26" y="267.10" width="21.00" height="83.20" stroke="#243b3b" stroke-width="1.2" fill="#fff" />
<rect x="151.86" y="267.60" width="2.50" height="82.70" stroke="#243b3b" stroke-width="0" fill="#dde3e3" />
<rect x="169.16" y="267.60" width="2.50" height="82.70" stroke="#243b3b" stroke-width="0" fill="#dde3e3" />
<line x1="154.36" y1="267.00" x2="154.36" y2="350.30" stroke="#243b3b" stroke-width="1.0" />
<line x1="157.06" y1="267.00" x2="157.06" y2="350.30" stroke="#243b3b" stroke-width="1.0" />
<line x1="166.36" y1="267.00" x2="166.36" y2="350.30" stroke="#243b3b" stroke-width="1.0" />
<line x1="169.16" y1="267.00" x2="169.16" y2="350.30" stroke="#243b3b" stroke-width="1.0" />
<rect x="181.18" y="267.10" width="21.00" height="83.20" stroke="#243b3b" stroke-width="1.2" fill="#fff" />
<rect x="181.78" y="267.60" width="2.50" height="82.70" stroke="#243b3b" stroke-width="0" fill="#dde3e3" />
<rect x="199.08" y="267.60" width="2.50" height="82.70" stroke="#243b3b" stroke-width="0" fill="#dde3e3" />
<line x1="184.28" y1="267.00" x2="184.28" y2="350.30" stroke="#243b3b" stroke-width="1.0" />
<line x1="186.98" y1="267.00" x2="186.98" y2="350.30" stroke="#243b3b" stroke-width="1.0" />
<line x1="196.28" y1="267.00" x2="196.28" y2="350.30" stroke="#243b3b" stroke-width="1.0" />
<line x1="199.08" y1="267.00" x2="199.08" y2="350.30" stroke="#243b3b" stroke-width="1.0" />
<rect x="211.10" y="267.10" width="21.00" height="83.20" stroke="#243b3b" stroke-width="1.2" fill="#fff" />
<rect x="211.70" y="267.60" width="2.50" height="82.70" stroke="#243b3b" stroke-width="0" fill="#dde3e3" />
<rect x="229.00" y="267.60" width="2.50" height="82.70" stroke="#243b3b" stroke-width="0" fill="#dde3e3" />
<line x1="214.20" y1="267.00" x2="214.20" y2="350.30" stroke="#243b3b" stroke-width="1.0" />
<line x1="216.90" y1="267.00" x2="216.90" y2="350.30" stroke="#243b3b" stroke-width="1.0" />
<line x1="226.20" y1="267.00" x2="226.20" y2="350.30" stroke="#243b3b" stroke-width="1.0" />
<line x1="229.00" y1="267.00" x2="229.00" y2="350.30" stroke="#243b3b" stroke-width="1.0" />
<rect x="241.02" y="267.10" width="21.00" height="83.20" stroke="#243b3b" stroke-width="1.2" fill="#fff" />
<rect x="241.62" y="267.60" width="2.50" height="82.70" stroke="#243b3b" stroke-width="0" fill="#dde3e3" />
<rect x="258.92" y="267.60" width="2.50" height="82.70" stroke="#243b3b" stroke-width="0" fill="#dde3e3" />
<line x1="244.12" y1="267.00" x2="244.12" y2="350.30" stroke="#243b3b" stroke-width="1.0" />
<line x1="246.82" y1="267.00" x2="246.82" y2="350.30" stroke="#243b3b" stroke-width="1.0" />
<line x1="256.12" y1="267.00" x2="256.12" y2="350.30" stroke="#243b3b" stroke-width="1.0" />
<line x1="258.92" y1="267.00" x2="258.92" y2="350.30" stroke="#243b3b" stroke-width="1.0" />
<rect x="270.94" y="267.10" width="21.00" height="83.20" stroke="#243b3b" stroke-width="1.2" fill="#fff" />
<rect x="271.54" y="267.60" width="2.50" height="82.70" stroke="#243b3b" stroke-width="0" fill="#dde3e3" />
<rect x="288.84" y="267.60" width="2.50" height="82.70" stroke="#243b3b" stroke-width="0" fill="#dde3e3" />
<line x1="274.04" y1="267.00" x2="274.04" y2="350.30" stroke="#243b3b" stroke-width="1.0" />
<line x1="276.74" y1="267.00" x2="276.74" y2="350.30" stroke="#243b3b" stroke-width="1.0" />
<line x1="286.04" y1="267.00" x2="286.04" y2="350.30" stroke="#243b3b" stroke-width="1.0" />
<line x1="288.84" y1="267.00" x2="288.84" y2="350.30" stroke="#243b3b" stroke-width="1.0" />
<rect x="300.86" y="267.10" width="21.00" height="83.20" stroke="#243b3b" stroke-width="1.2" fill="#fff" />
<rect x="301.46" y="267.60" width="2.50" height="82.70" stroke="#243b3b" stroke-width="0" fill="#dde3e3" />
<rect x="318.76" y="267.60" width="2.50" height="82.70" stroke="#243b3b" stroke-width="0" fill="#dde3e3" />
<line x1="303.96" y1="267.00" x2="303.96" y2="350.30" stroke="#243b3b" stroke-width="1.0" />
<line x1="306.66" y1="267.00" x2="306.66" y2="350.30" stroke="#243b3b" stroke-width="1.0" />
<line x1="315.96" y1="267.00" x2="315.96" y2="350.30" stroke="#243b3b" stroke-width="1.0" />
<line x1="318.76" y1="267.00" x2="318.76" y2="350.30" stroke="#243b3b" stroke-width="1.0" />
<path d="M52.45,350.3 L52.45,326 L53.5,322.8 L53.5,311.2 L61.2,311.2 L61.2,322.8 L61.7,326 L61.7,350.3" stroke="#243b3b" stroke-width="1.25" fill="#fff" />
<line x1="52.45" y1="340.50" x2="61.70" y2="340.50" stroke="#243b3b" stroke-width="1.1" />
<line x1="60.55" y1="312.00" x2="60.55" y2="323.00" stroke="#5b6c6c" stroke-width="1.0" />
<path d="M54.25,358.3 L54.25,371 L60.45,371 L60.45,358.3" stroke="#243b3b" stroke-width="1.25" fill="#fff" />
<line x1="55.85" y1="359.00" x2="55.85" y2="370.00" stroke="#8a9a9a" stroke-width="0.7" />
<path d="M53.95,370.4 L60.75,370.4 L60.15,373.4 Q57.35,374.7 54.550000000000004,373.4 Z" stroke="#0d0d0d" stroke-width="1.0" fill="#151515" />
<line x1="56.15" y1="371.90" x2="58.55" y2="371.90" stroke="#9aa" stroke-width="0.8" />
<path d="M82.37,350.3 L82.37,326 L83.42000000000002,322.8 L83.42000000000002,311.2 L91.12,311.2 L91.12,322.8 L91.62,326 L91.62,350.3" stroke="#243b3b" stroke-width="1.25" fill="#fff" />
<line x1="82.37" y1="340.50" x2="91.62" y2="340.50" stroke="#243b3b" stroke-width="1.1" />
<line x1="90.47" y1="312.00" x2="90.47" y2="323.00" stroke="#5b6c6c" stroke-width="1.0" />
<path d="M84.17000000000002,358.3 L84.17000000000002,371 L90.37,371 L90.37,358.3" stroke="#243b3b" stroke-width="1.25" fill="#fff" />
<line x1="85.77" y1="359.00" x2="85.77" y2="370.00" stroke="#8a9a9a" stroke-width="0.7" />
<path d="M83.87,370.4 L90.67000000000002,370.4 L90.07000000000001,373.4 Q87.27000000000001,374.7 84.47000000000001,373.4 Z" stroke="#0d0d0d" stroke-width="1.0" fill="#151515" />
<line x1="86.07" y1="371.90" x2="88.47" y2="371.90" stroke="#9aa" stroke-width="0.8" />
<path d="M112.28999999999999,350.3 L112.28999999999999,326 L113.34,322.8 L113.34,311.2 L121.03999999999999,311.2 L121.03999999999999,322.8 L121.53999999999999,326 L121.53999999999999,350.3" stroke="#243b3b" stroke-width="1.25" fill="#fff" />
<line x1="112.29" y1="340.50" x2="121.54" y2="340.50" stroke="#243b3b" stroke-width="1.1" />
<line x1="120.39" y1="312.00" x2="120.39" y2="323.00" stroke="#5b6c6c" stroke-width="1.0" />
<path d="M114.09,358.3 L114.09,371 L120.28999999999999,371 L120.28999999999999,358.3" stroke="#243b3b" stroke-width="1.25" fill="#fff" />
<line x1="115.69" y1="359.00" x2="115.69" y2="370.00" stroke="#8a9a9a" stroke-width="0.7" />
<path d="M113.78999999999999,370.4 L120.59,370.4 L119.99,373.4 Q117.19,374.7 114.39,373.4 Z" stroke="#0d0d0d" stroke-width="1.0" fill="#151515" />
<line x1="115.99" y1="371.90" x2="118.39" y2="371.90" stroke="#9aa" stroke-width="0.8" />
<path d="M142.21,350.3 L142.21,326 L143.26000000000002,322.8 L143.26000000000002,311.2 L150.96,311.2 L150.96,322.8 L151.46,326 L151.46,350.3" stroke="#243b3b" stroke-width="1.25" fill="#fff" />
<line x1="142.21" y1="340.50" x2="151.46" y2="340.50" stroke="#243b3b" stroke-width="1.1" />
<line x1="150.31" y1="312.00" x2="150.31" y2="323.00" stroke="#5b6c6c" stroke-width="1.0" />
<path d="M144.01000000000002,358.3 L144.01000000000002,371 L150.21,371 L150.21,358.3" stroke="#243b3b" stroke-width="1.25" fill="#fff" />
<line x1="145.61" y1="359.00" x2="145.61" y2="370.00" stroke="#8a9a9a" stroke-width="0.7" />
<path d="M143.71,370.4 L150.51000000000002,370.4 L149.91000000000003,373.4 Q147.11,374.7 144.31,373.4 Z" stroke="#0d0d0d" stroke-width="1.0" fill="#151515" />
<line x1="145.91" y1="371.90" x2="148.31" y2="371.90" stroke="#9aa" stroke-width="0.8" />
<path d="M172.13,350.3 L172.13,326 L173.18,322.8 L173.18,311.2 L180.88,311.2 L180.88,322.8 L181.38,326 L181.38,350.3" stroke="#243b3b" stroke-width="1.25" fill="#fff" />
<line x1="172.13" y1="340.50" x2="181.38" y2="340.50" stroke="#243b3b" stroke-width="1.1" />
<line x1="180.23" y1="312.00" x2="180.23" y2="323.00" stroke="#5b6c6c" stroke-width="1.0" />
<path d="M173.93,358.3 L173.93,371 L180.13,371 L180.13,358.3" stroke="#243b3b" stroke-width="1.25" fill="#fff" />
<line x1="175.53" y1="359.00" x2="175.53" y2="370.00" stroke="#8a9a9a" stroke-width="0.7" />
<path d="M173.63,370.4 L180.43,370.4 L179.83,373.4 Q177.03,374.7 174.23,373.4 Z" stroke="#0d0d0d" stroke-width="1.0" fill="#151515" />
<line x1="175.83" y1="371.90" x2="178.23" y2="371.90" stroke="#9aa" stroke-width="0.8" />
<path d="M202.05,350.3 L202.05,326 L203.10000000000002,322.8 L203.10000000000002,311.2 L210.8,311.2 L210.8,322.8 L211.3,326 L211.3,350.3" stroke="#243b3b" stroke-width="1.25" fill="#fff" />
<line x1="202.05" y1="340.50" x2="211.30" y2="340.50" stroke="#243b3b" stroke-width="1.1" />
<line x1="210.15" y1="312.00" x2="210.15" y2="323.00" stroke="#5b6c6c" stroke-width="1.0" />
<path d="M203.85000000000002,358.3 L203.85000000000002,371 L210.05,371 L210.05,358.3" stroke="#243b3b" stroke-width="1.25" fill="#fff" />
<line x1="205.45" y1="359.00" x2="205.45" y2="370.00" stroke="#8a9a9a" stroke-width="0.7" />
<path d="M203.55,370.4 L210.35000000000002,370.4 L209.75000000000003,373.4 Q206.95000000000002,374.7 204.15,373.4 Z" stroke="#0d0d0d" stroke-width="1.0" fill="#151515" />
<line x1="205.75" y1="371.90" x2="208.15" y2="371.90" stroke="#9aa" stroke-width="0.8" />
<path d="M231.97,350.3 L231.97,326 L233.02,322.8 L233.02,311.2 L240.72,311.2 L240.72,322.8 L241.22,326 L241.22,350.3" stroke="#243b3b" stroke-width="1.25" fill="#fff" />
<line x1="231.97" y1="340.50" x2="241.22" y2="340.50" stroke="#243b3b" stroke-width="1.1" />
<line x1="240.07" y1="312.00" x2="240.07" y2="323.00" stroke="#5b6c6c" stroke-width="1.0" />
<path d="M233.77,358.3 L233.77,371 L239.97,371 L239.97,358.3" stroke="#243b3b" stroke-width="1.25" fill="#fff" />
<line x1="235.37" y1="359.00" x2="235.37" y2="370.00" stroke="#8a9a9a" stroke-width="0.7" />
<path d="M233.47,370.4 L240.27,370.4 L239.67000000000002,373.4 Q236.87,374.7 234.07,373.4 Z" stroke="#0d0d0d" stroke-width="1.0" fill="#151515" />
<line x1="235.67" y1="371.90" x2="238.07" y2="371.90" stroke="#9aa" stroke-width="0.8" />
<path d="M261.89000000000004,350.3 L261.89000000000004,326 L262.94,322.8 L262.94,311.2 L270.64000000000004,311.2 L270.64000000000004,322.8 L271.14000000000004,326 L271.14000000000004,350.3" stroke="#243b3b" stroke-width="1.25" fill="#fff" />
<line x1="261.89" y1="340.50" x2="271.14" y2="340.50" stroke="#243b3b" stroke-width="1.1" />
<line x1="269.99" y1="312.00" x2="269.99" y2="323.00" stroke="#5b6c6c" stroke-width="1.0" />
<path d="M263.69,358.3 L263.69,371 L269.89000000000004,371 L269.89000000000004,358.3" stroke="#243b3b" stroke-width="1.25" fill="#fff" />
<line x1="265.29" y1="359.00" x2="265.29" y2="370.00" stroke="#8a9a9a" stroke-width="0.7" />
<path d="M263.39000000000004,370.4 L270.19,370.4 L269.59000000000003,373.4 Q266.79,374.7 263.99,373.4 Z" stroke="#0d0d0d" stroke-width="1.0" fill="#151515" />
<line x1="265.59" y1="371.90" x2="267.99" y2="371.90" stroke="#9aa" stroke-width="0.8" />
<path d="M291.81000000000006,350.3 L291.81000000000006,326 L292.86,322.8 L292.86,311.2 L300.56000000000006,311.2 L300.56000000000006,322.8 L301.06000000000006,326 L301.06000000000006,350.3" stroke="#243b3b" stroke-width="1.25" fill="#fff" />
<line x1="291.81" y1="340.50" x2="301.06" y2="340.50" stroke="#243b3b" stroke-width="1.1" />
<line x1="299.91" y1="312.00" x2="299.91" y2="323.00" stroke="#5b6c6c" stroke-width="1.0" />
<path d="M293.61,358.3 L293.61,371 L299.81000000000006,371 L299.81000000000006,358.3" stroke="#243b3b" stroke-width="1.25" fill="#fff" />
<line x1="295.21" y1="359.00" x2="295.21" y2="370.00" stroke="#8a9a9a" stroke-width="0.7" />
<path d="M293.31000000000006,370.4 L300.11,370.4 L299.51000000000005,373.4 Q296.71000000000004,374.7 293.91,373.4 Z" stroke="#0d0d0d" stroke-width="1.0" fill="#151515" />
<line x1="295.51" y1="371.90" x2="297.91" y2="371.90" stroke="#9aa" stroke-width="0.8" />
<path d="M321.7300000000001,350.3 L321.7300000000001,326 L322.78000000000003,322.8 L322.78000000000003,311.2 L330.4800000000001,311.2 L330.4800000000001,322.8 L330.9800000000001,326 L330.9800000000001,350.3" stroke="#243b3b" stroke-width="1.25" fill="#fff" />
<line x1="321.73" y1="340.50" x2="330.98" y2="340.50" stroke="#243b3b" stroke-width="1.1" />
<line x1="329.83" y1="312.00" x2="329.83" y2="323.00" stroke="#5b6c6c" stroke-width="1.0" />
<path d="M323.53000000000003,358.3 L323.53000000000003,371 L329.7300000000001,371 L329.7300000000001,358.3" stroke="#243b3b" stroke-width="1.25" fill="#fff" />
<line x1="325.13" y1="359.00" x2="325.13" y2="370.00" stroke="#8a9a9a" stroke-width="0.7" />
<path d="M323.2300000000001,370.4 L330.03000000000003,370.4 L329.43000000000006,373.4 Q326.63000000000005,374.7 323.83000000000004,373.4 Z" stroke="#0d0d0d" stroke-width="1.0" fill="#151515" />
<line x1="325.43" y1="371.90" x2="327.83" y2="371.90" stroke="#9aa" stroke-width="0.8" />
<rect x="41.30" y="350.20" width="301.20" height="8.10" stroke="#243b3b" stroke-width="1.3" fill="#fff" />
<line x1="181.50" y1="358.30" x2="191.50" y2="358.30" stroke="#fff" stroke-width="2.5" />
<line x1="179.50" y1="354.50" x2="182.00" y2="358.30" stroke="#243b3b" stroke-width="1.1" />
<line x1="188.50" y1="354.50" x2="191.50" y2="358.30" stroke="#243b3b" stroke-width="1.1" />
<clipPath id="bc2"><rect x="0" y="250" width="800" height="99.60000000000002"/></clipPath>
<g clip-path="url(#bc2)">
<path d="M183.50,255.30 C184.08,256.08 185.88,257.58 187.00,260.00 C188.12,262.42 189.15,265.50 190.20,269.80 C191.25,274.10 193.50,281.10 193.30,285.80 C193.10,290.50 191.05,294.47 189.00,298.00 C186.95,301.53 183.08,304.27 181.00,307.00 C178.92,309.73 177.72,310.77 176.50,314.40 C175.28,318.03 173.95,324.03 173.70,328.80 C173.45,333.57 174.28,339.47 175.00,343.00 C175.72,346.53 177.50,348.83 178.00,350.00" stroke="#fff" stroke-width="8" fill="none" transform="translate(4.5,0)"/>
<path d="M183.50,255.30 C184.08,256.08 185.88,257.58 187.00,260.00 C188.12,262.42 189.15,265.50 190.20,269.80 C191.25,274.10 193.50,281.10 193.30,285.80 C193.10,290.50 191.05,294.47 189.00,298.00 C186.95,301.53 183.08,304.27 181.00,307.00 C178.92,309.73 177.72,310.77 176.50,314.40 C175.28,318.03 173.95,324.03 173.70,328.80 C173.45,333.57 174.28,339.47 175.00,343.00 C175.72,346.53 177.50,348.83 178.00,350.00" stroke="#243b3b" stroke-width="1.0" fill="none" stroke-dasharray="7 3.5"/>
<path d="M183.50,255.30 C184.08,256.08 185.88,257.58 187.00,260.00 C188.12,262.42 189.15,265.50 190.20,269.80 C191.25,274.10 193.50,281.10 193.30,285.80 C193.10,290.50 191.05,294.47 189.00,298.00 C186.95,301.53 183.08,304.27 181.00,307.00 C178.92,309.73 177.72,310.77 176.50,314.40 C175.28,318.03 173.95,324.03 173.70,328.80 C173.45,333.57 174.28,339.47 175.00,343.00 C175.72,346.53 177.50,348.83 178.00,350.00" stroke="#6f8080" stroke-width="0.9" fill="none" stroke-dasharray="7 3.5" stroke-dashoffset="3" transform="translate(9,0)"/>
</g>
<line x1="183.50" y1="255.30" x2="186.50" y2="259.50" stroke="#243b3b" stroke-width="1.2" />
<line x1="192.00" y1="255.30" x2="195.00" y2="259.50" stroke="#243b3b" stroke-width="1.2" />
<line x1="34.00" y1="359.50" x2="34.00" y2="438.00" stroke="#243b3b" stroke-width="1.1" />
<line x1="349.80" y1="359.50" x2="349.80" y2="438.00" stroke="#243b3b" stroke-width="1.1" />
<line x1="34.00" y1="434.40" x2="349.80" y2="434.40" stroke="#243b3b" stroke-width="1.1" />
<path d="M34.50,433.85 L37.25,433.10 L40.00,433.16 L40.00,435.63 L37.25,435.70 L34.50,434.95 Z" fill="#111"/>
<path d="M349.30,434.95 L346.55,435.70 L343.80,435.63 L343.80,433.16 L346.55,433.10 L349.30,433.85 Z" fill="#111"/>
<g transform="translate(191.50,433.40) rotate(0) scale(0.84,1)"><text x="0" y="0" font-size="10.8" text-anchor="middle" fill="#1c2424" stroke="#1c2424" stroke-width="0.22" textLength="67.86" lengthAdjust="spacing">N×5.08+2.72</text></g>
<line x1="57.30" y1="376.00" x2="57.30" y2="416.00" stroke="#243b3b" stroke-width="1.0" />
<line x1="326.60" y1="376.00" x2="326.60" y2="416.00" stroke="#243b3b" stroke-width="1.0" />
<line x1="57.30" y1="412.00" x2="326.60" y2="412.00" stroke="#243b3b" stroke-width="1.1" />
<path d="M57.80,411.45 L60.55,410.70 L63.30,410.76 L63.30,413.24 L60.55,413.30 L57.80,412.55 Z" fill="#111"/>
<path d="M326.10,412.55 L323.35,413.30 L320.60,413.24 L320.60,410.76 L323.35,410.70 L326.10,411.45 Z" fill="#111"/>
<g transform="translate(192.20,410.50) rotate(0) scale(0.84,1)"><text x="0" y="0" font-size="10.8" text-anchor="middle" fill="#1c2424" stroke="#1c2424" stroke-width="0.22" textLength="58.10" lengthAdjust="spacing">(N-1)×5.08</text></g>
<line x1="87.30" y1="376.00" x2="87.30" y2="398.00" stroke="#243b3b" stroke-width="1.0" />
<line x1="57.30" y1="394.00" x2="87.30" y2="394.00" stroke="#243b3b" stroke-width="1.1" />
<path d="M57.80,393.45 L60.55,392.70 L63.30,392.76 L63.30,395.24 L60.55,395.30 L57.80,394.55 Z" fill="#111"/>
<path d="M86.80,394.55 L84.05,395.30 L81.30,395.24 L81.30,392.76 L84.05,392.70 L86.80,393.45 Z" fill="#111"/>
<g transform="translate(72.20,392.90) rotate(0) scale(0.84,1)"><text x="0" y="0" font-size="11" text-anchor="middle" fill="#1c2424" stroke="#1c2424" stroke-width="0.22" textLength="23.21" lengthAdjust="spacing">5.08</text></g>
<line x1="263.50" y1="376.00" x2="263.50" y2="392.50" stroke="#243b3b" stroke-width="0.9" />
<line x1="269.70" y1="376.00" x2="269.70" y2="392.50" stroke="#243b3b" stroke-width="0.9" />
<line x1="254.50" y1="388.40" x2="263.50" y2="388.40" stroke="#243b3b" stroke-width="1.0" />
<line x1="269.70" y1="388.40" x2="291.50" y2="388.40" stroke="#243b3b" stroke-width="1.0" />
<path d="M263.30,388.95 L261.05,389.90 L258.80,389.82 L258.80,386.97 L261.05,386.90 L263.30,387.85 Z" fill="#111"/>
<path d="M269.90,387.85 L272.15,386.90 L274.40,386.97 L274.40,389.82 L272.15,389.90 L269.90,388.95 Z" fill="#111"/>
<g transform="translate(285.30,386.70) rotate(0) scale(0.84,1)"><text x="0" y="0" font-size="11" text-anchor="middle" fill="#1c2424" stroke="#1c2424" stroke-width="0.22" textLength="13.69" lengthAdjust="spacing">1.0</text></g>
<line x1="405.00" y1="293.80" x2="563.00" y2="293.80" stroke="#243b3b" stroke-width="1.3" />
<line x1="571.60" y1="293.80" x2="764.60" y2="293.80" stroke="#243b3b" stroke-width="1.3" />
<line x1="405.00" y1="411.90" x2="557.40" y2="411.90" stroke="#243b3b" stroke-width="1.3" />
<line x1="565.40" y1="411.90" x2="763.70" y2="411.90" stroke="#243b3b" stroke-width="1.3" />
<line x1="405.00" y1="245.60" x2="405.00" y2="411.90" stroke="#243b3b" stroke-width="1.3" />
<line x1="720.20" y1="245.60" x2="720.20" y2="411.90" stroke="#243b3b" stroke-width="1.3" />
<line x1="563.00" y1="293.80" x2="568.00" y2="303.40" stroke="#243b3b" stroke-width="1.2" />
<line x1="571.60" y1="293.80" x2="577.00" y2="303.40" stroke="#243b3b" stroke-width="1.2" />
<line x1="557.40" y1="402.30" x2="562.70" y2="411.90" stroke="#243b3b" stroke-width="1.2" />
<line x1="565.40" y1="402.30" x2="570.70" y2="411.90" stroke="#243b3b" stroke-width="1.2" />
<line x1="560.00" y1="356.80" x2="566.00" y2="347.50" stroke="#243b3b" stroke-width="1.2" />
<line x1="568.00" y1="356.80" x2="574.80" y2="347.50" stroke="#243b3b" stroke-width="1.2" />
<path d="M572.5,316.5 Q575.5,324 573.6,331.5" stroke="#243b3b" stroke-width="1.2" fill="none" />
<path d="M581.5,317 Q584,324 582.8,331.5" stroke="#243b3b" stroke-width="1.2" fill="none" />
<path d="M551.5,372.5 Q549.5,379 550.8,385" stroke="#243b3b" stroke-width="1.2" fill="none" />
<path d="M560,372.5 Q558,379 559.3,385" stroke="#243b3b" stroke-width="1.2" fill="none" />
<circle cx="427.75" cy="320.70" r="5.00" stroke="#243b3b" stroke-width="1.3" fill="none" />
<line x1="422.75" y1="320.70" x2="432.75" y2="320.70" stroke="#243b3b" stroke-width="1.0" />
<line x1="427.75" y1="315.70" x2="427.75" y2="325.70" stroke="#243b3b" stroke-width="1.0" />
<circle cx="427.75" cy="387.90" r="5.00" stroke="#243b3b" stroke-width="1.3" fill="none" />
<line x1="422.75" y1="387.90" x2="432.75" y2="387.90" stroke="#243b3b" stroke-width="1.0" />
<line x1="427.75" y1="382.90" x2="427.75" y2="392.90" stroke="#243b3b" stroke-width="1.0" />
<circle cx="457.67" cy="320.70" r="5.00" stroke="#243b3b" stroke-width="1.3" fill="none" />
<line x1="452.67" y1="320.70" x2="462.67" y2="320.70" stroke="#243b3b" stroke-width="1.0" />
<line x1="457.67" y1="315.70" x2="457.67" y2="325.70" stroke="#243b3b" stroke-width="1.0" />
<circle cx="457.67" cy="387.90" r="5.00" stroke="#243b3b" stroke-width="1.3" fill="none" />
<line x1="452.67" y1="387.90" x2="462.67" y2="387.90" stroke="#243b3b" stroke-width="1.0" />
<line x1="457.67" y1="382.90" x2="457.67" y2="392.90" stroke="#243b3b" stroke-width="1.0" />
<circle cx="487.59" cy="320.70" r="5.00" stroke="#243b3b" stroke-width="1.3" fill="none" />
<circle cx="487.59" cy="387.90" r="5.00" stroke="#243b3b" stroke-width="1.3" fill="none" />
<circle cx="517.51" cy="320.70" r="5.00" stroke="#243b3b" stroke-width="1.3" fill="none" />
<line x1="512.51" y1="320.70" x2="522.51" y2="320.70" stroke="#243b3b" stroke-width="1.0" />
<line x1="517.51" y1="315.70" x2="517.51" y2="325.70" stroke="#243b3b" stroke-width="1.0" />
<circle cx="517.51" cy="387.90" r="5.00" stroke="#243b3b" stroke-width="1.3" fill="none" />
<circle cx="547.43" cy="320.70" r="5.00" stroke="#243b3b" stroke-width="1.3" fill="none" />
<circle cx="547.43" cy="387.90" r="5.00" stroke="#243b3b" stroke-width="1.3" fill="none" />
<circle cx="577.35" cy="387.90" r="5.00" stroke="#243b3b" stroke-width="1.3" fill="none" />
<circle cx="607.27" cy="320.70" r="5.00" stroke="#243b3b" stroke-width="1.3" fill="none" />
<circle cx="607.27" cy="387.90" r="5.00" stroke="#243b3b" stroke-width="1.3" fill="none" />
<circle cx="637.19" cy="320.70" r="5.00" stroke="#243b3b" stroke-width="1.3" fill="none" />
<circle cx="637.19" cy="387.90" r="5.00" stroke="#243b3b" stroke-width="1.3" fill="none" />
<circle cx="667.11" cy="320.70" r="5.00" stroke="#243b3b" stroke-width="1.3" fill="none" />
<circle cx="667.11" cy="387.90" r="5.00" stroke="#243b3b" stroke-width="1.3" fill="none" />
<circle cx="697.03" cy="320.70" r="5.00" stroke="#243b3b" stroke-width="1.3" fill="none" />
<line x1="692.03" y1="320.70" x2="702.03" y2="320.70" stroke="#243b3b" stroke-width="1.0" />
<line x1="697.03" y1="315.70" x2="697.03" y2="325.70" stroke="#243b3b" stroke-width="1.0" />
<circle cx="697.03" cy="387.90" r="5.00" stroke="#243b3b" stroke-width="1.3" fill="none" />
<line x1="692.03" y1="387.90" x2="702.03" y2="387.90" stroke="#243b3b" stroke-width="1.0" />
<line x1="697.03" y1="382.90" x2="697.03" y2="392.90" stroke="#243b3b" stroke-width="1.0" />
<line x1="405.00" y1="250.00" x2="720.20" y2="250.00" stroke="#243b3b" stroke-width="1.1" />
<path d="M405.50,249.45 L408.25,248.70 L411.00,248.76 L411.00,251.24 L408.25,251.30 L405.50,250.55 Z" fill="#111"/>
<path d="M719.70,250.55 L716.95,251.30 L714.20,251.24 L714.20,248.76 L716.95,248.70 L719.70,249.45 Z" fill="#111"/>
<g transform="translate(561.90,248.80) rotate(0) scale(0.84,1)"><text x="0" y="0" font-size="10.8" text-anchor="middle" fill="#1c2424" stroke="#1c2424" stroke-width="0.22" textLength="67.86" lengthAdjust="spacing">N×5.08+2.72</text></g>
<line x1="427.70" y1="267.20" x2="427.70" y2="315.70" stroke="#243b3b" stroke-width="1.0" />
<line x1="697.60" y1="267.20" x2="697.60" y2="315.70" stroke="#243b3b" stroke-width="1.0" />
<line x1="427.70" y1="271.50" x2="697.60" y2="271.50" stroke="#243b3b" stroke-width="1.1" />
<path d="M428.20,270.95 L430.95,270.20 L433.70,270.26 L433.70,272.74 L430.95,272.80 L428.20,272.05 Z" fill="#111"/>
<path d="M697.10,272.05 L694.35,272.80 L691.60,272.74 L691.60,270.26 L694.35,270.20 L697.10,270.95 Z" fill="#111"/>
<g transform="translate(562.20,269.00) rotate(0) scale(0.84,1)"><text x="0" y="0" font-size="10.8" text-anchor="middle" fill="#1c2424" stroke="#1c2424" stroke-width="0.22" textLength="57.74" lengthAdjust="spacing">(N-1)×5.08</text></g>
<line x1="457.60" y1="283.80" x2="457.60" y2="315.70" stroke="#243b3b" stroke-width="1.0" />
<line x1="427.70" y1="287.70" x2="457.60" y2="287.70" stroke="#243b3b" stroke-width="1.1" />
<path d="M428.20,287.15 L430.95,286.40 L433.70,286.46 L433.70,288.94 L430.95,289.00 L428.20,288.25 Z" fill="#111"/>
<path d="M457.10,288.25 L454.35,289.00 L451.60,288.94 L451.60,286.46 L454.35,286.40 L457.10,287.15 Z" fill="#111"/>
<g transform="translate(442.70,286.30) rotate(0) scale(0.84,1)"><text x="0" y="0" font-size="11" text-anchor="middle" fill="#1c2424" stroke="#1c2424" stroke-width="0.22" textLength="23.21" lengthAdjust="spacing">5.08</text></g>
<line x1="427.70" y1="370.60" x2="427.70" y2="382.90" stroke="#243b3b" stroke-width="1.0" />
<line x1="457.60" y1="370.60" x2="457.60" y2="382.90" stroke="#243b3b" stroke-width="1.0" />
<line x1="427.70" y1="374.40" x2="457.60" y2="374.40" stroke="#243b3b" stroke-width="1.1" />
<path d="M428.20,373.85 L430.95,373.10 L433.70,373.16 L433.70,375.63 L430.95,375.70 L428.20,374.95 Z" fill="#111"/>
<path d="M457.10,374.95 L454.35,375.70 L451.60,375.63 L451.60,373.16 L454.35,373.10 L457.10,373.85 Z" fill="#111"/>
<g transform="translate(442.70,372.50) rotate(0) scale(0.84,1)"><text x="0" y="0" font-size="11" text-anchor="middle" fill="#1c2424" stroke="#1c2424" stroke-width="0.22" textLength="23.21" lengthAdjust="spacing">5.08</text></g>
<line x1="702.60" y1="320.60" x2="741.50" y2="320.60" stroke="#243b3b" stroke-width="1.0" />
<line x1="702.60" y1="387.80" x2="741.50" y2="387.80" stroke="#243b3b" stroke-width="1.0" />
<line x1="720.20" y1="293.80" x2="764.60" y2="293.80" stroke="#243b3b" stroke-width="1.1" />
<line x1="720.20" y1="411.90" x2="763.70" y2="411.90" stroke="#243b3b" stroke-width="1.1" />
<line x1="737.90" y1="293.80" x2="737.90" y2="387.80" stroke="#243b3b" stroke-width="1.1" />
<path d="M738.45,294.30 L739.20,297.05 L739.13,299.80 L736.66,299.80 L736.60,297.05 L737.35,294.30 Z" fill="#111"/>
<path d="M737.35,320.10 L736.60,317.35 L736.66,314.60 L739.13,314.60 L739.20,317.35 L738.45,320.10 Z" fill="#111"/>
<path d="M738.45,321.10 L739.20,323.85 L739.13,326.60 L736.66,326.60 L736.60,323.85 L737.35,321.10 Z" fill="#111"/>
<path d="M737.35,387.30 L736.60,384.55 L736.66,381.80 L739.13,381.80 L739.20,384.55 L738.45,387.30 Z" fill="#111"/>
<line x1="760.00" y1="293.80" x2="760.00" y2="411.90" stroke="#243b3b" stroke-width="1.1" />
<path d="M760.55,294.30 L761.30,297.05 L761.24,299.80 L758.76,299.80 L758.70,297.05 L759.45,294.30 Z" fill="#111"/>
<path d="M759.45,411.40 L758.70,408.65 L758.76,405.90 L761.24,405.90 L761.30,408.65 L760.55,411.40 Z" fill="#111"/>
<g transform="translate(735.60,307.50) rotate(-90) scale(0.84,1)"><text x="0" y="0" font-size="10.8" text-anchor="middle" fill="#1c2424" stroke="#1c2424" stroke-width="0.22" textLength="15.48" lengthAdjust="spacing">4.6</text></g>
<g transform="translate(735.60,354.50) rotate(-90) scale(0.84,1)"><text x="0" y="0" font-size="10.8" text-anchor="middle" fill="#1c2424" stroke="#1c2424" stroke-width="0.22" textLength="20.24" lengthAdjust="spacing">11.4</text></g>
<g transform="translate(757.80,353.00) rotate(-90) scale(0.84,1)"><text x="0" y="0" font-size="10.8" text-anchor="middle" fill="#1c2424" stroke="#1c2424" stroke-width="0.22" textLength="21.43" lengthAdjust="spacing">20.1</text></g>
<line x1="521.00" y1="324.50" x2="543.50" y2="347.50" stroke="#243b3b" stroke-width="1.2" />
<path d="M521.59,324.31 L523.89,325.55 L525.61,327.36 L523.86,329.11 L522.05,327.39 L520.81,325.09 Z" fill="#111"/>
<text x="0.00" y="0.00" font-size="11" text-anchor="middle" font-weight="normal" fill="#1c2424" textLength="19" lengthAdjust="spacingAndGlyphs" transform="translate(538.2,341.8) rotate(45)" dy="-1.6" stroke="#1c2424" stroke-width="0.25">ø1.7</text>
<g transform="translate(546.9,438.7) scale(0.8,1)"><text x="0" y="0" font-size="13.4" text-anchor="middle" fill="#111" stroke="#111" stroke-width="0.6" textLength="97.9" lengthAdjust="spacing">P.C.B. LAYOUT</text></g>
</svg></body></html>
